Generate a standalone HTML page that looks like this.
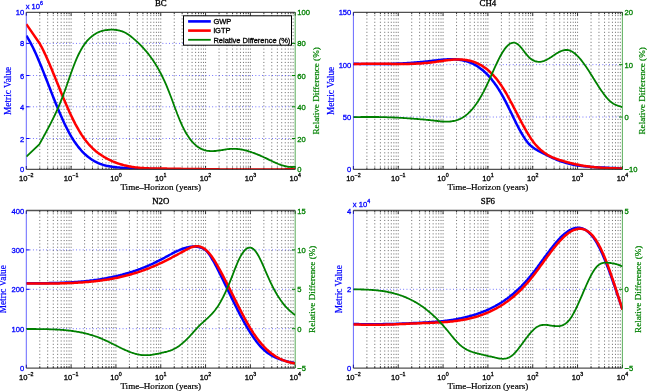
<!DOCTYPE html><html><head><meta charset="utf-8"><style>html,body{margin:0;padding:0;background:#fff;overflow:hidden}svg{display:block;will-change:transform}text{paint-order:stroke}</style></head><body>
<svg width="648" height="391" viewBox="0 0 648 391">
<rect width="648" height="391" fill="#fff"/>
<path d="M39.79,12.3V169.4M47.68,12.3V169.4M53.28,12.3V169.4M57.63,12.3V169.4M61.17,12.3V169.4M64.17,12.3V169.4M66.77,12.3V169.4M69.07,12.3V169.4M71.12,12.3V169.4M84.61,12.3V169.4M92.5,12.3V169.4M98.1,12.3V169.4M102.44,12.3V169.4M105.99,12.3V169.4M108.99,12.3V169.4M111.59,12.3V169.4M113.88,12.3V169.4M115.93,12.3V169.4M129.42,12.3V169.4M137.32,12.3V169.4M142.92,12.3V169.4M147.26,12.3V169.4M150.81,12.3V169.4M153.81,12.3V169.4M156.41,12.3V169.4M158.7,12.3V169.4M160.75,12.3V169.4M174.24,12.3V169.4M182.13,12.3V169.4M187.73,12.3V169.4M192.08,12.3V169.4M195.62,12.3V169.4M198.62,12.3V169.4M201.22,12.3V169.4M203.52,12.3V169.4M205.57,12.3V169.4M219.06,12.3V169.4M226.95,12.3V169.4M232.55,12.3V169.4M236.89,12.3V169.4M240.44,12.3V169.4M243.44,12.3V169.4M246.04,12.3V169.4M248.33,12.3V169.4M250.38,12.3V169.4M263.87,12.3V169.4M271.77,12.3V169.4M277.37,12.3V169.4M281.71,12.3V169.4M285.26,12.3V169.4M288.26,12.3V169.4M290.86,12.3V169.4M293.15,12.3V169.4" stroke="#000" stroke-opacity="0.55" stroke-width="1" stroke-dasharray="1.1 2.247" stroke-dashoffset="0.6" fill="none"/>
<path d="M26.3,138.5H295.2M26.3,106.8H295.2M26.3,75.5H295.2M26.3,43.4H295.2" stroke="#0000ff" stroke-opacity="0.6" stroke-width="1" stroke-dasharray="0.9 2.42" fill="none"/>
<path d="M26.3,169.4v-3.4M26.3,12.3v3.4M71.12,169.4v-3.4M71.12,12.3v3.4M115.93,169.4v-3.4M115.93,12.3v3.4M160.75,169.4v-3.4M160.75,12.3v3.4M205.57,169.4v-3.4M205.57,12.3v3.4M250.38,169.4v-3.4M250.38,12.3v3.4M295.2,169.4v-3.4M295.2,12.3v3.4M39.79,169.4v-1.9M39.79,12.3v1.9M47.68,169.4v-1.9M47.68,12.3v1.9M53.28,169.4v-1.9M53.28,12.3v1.9M57.63,169.4v-1.9M57.63,12.3v1.9M61.17,169.4v-1.9M61.17,12.3v1.9M64.17,169.4v-1.9M64.17,12.3v1.9M66.77,169.4v-1.9M66.77,12.3v1.9M69.07,169.4v-1.9M69.07,12.3v1.9M84.61,169.4v-1.9M84.61,12.3v1.9M92.5,169.4v-1.9M92.5,12.3v1.9M98.1,169.4v-1.9M98.1,12.3v1.9M102.44,169.4v-1.9M102.44,12.3v1.9M105.99,169.4v-1.9M105.99,12.3v1.9M108.99,169.4v-1.9M108.99,12.3v1.9M111.59,169.4v-1.9M111.59,12.3v1.9M113.88,169.4v-1.9M113.88,12.3v1.9M129.42,169.4v-1.9M129.42,12.3v1.9M137.32,169.4v-1.9M137.32,12.3v1.9M142.92,169.4v-1.9M142.92,12.3v1.9M147.26,169.4v-1.9M147.26,12.3v1.9M150.81,169.4v-1.9M150.81,12.3v1.9M153.81,169.4v-1.9M153.81,12.3v1.9M156.41,169.4v-1.9M156.41,12.3v1.9M158.7,169.4v-1.9M158.7,12.3v1.9M174.24,169.4v-1.9M174.24,12.3v1.9M182.13,169.4v-1.9M182.13,12.3v1.9M187.73,169.4v-1.9M187.73,12.3v1.9M192.08,169.4v-1.9M192.08,12.3v1.9M195.62,169.4v-1.9M195.62,12.3v1.9M198.62,169.4v-1.9M198.62,12.3v1.9M201.22,169.4v-1.9M201.22,12.3v1.9M203.52,169.4v-1.9M203.52,12.3v1.9M219.06,169.4v-1.9M219.06,12.3v1.9M226.95,169.4v-1.9M226.95,12.3v1.9M232.55,169.4v-1.9M232.55,12.3v1.9M236.89,169.4v-1.9M236.89,12.3v1.9M240.44,169.4v-1.9M240.44,12.3v1.9M243.44,169.4v-1.9M243.44,12.3v1.9M246.04,169.4v-1.9M246.04,12.3v1.9M248.33,169.4v-1.9M248.33,12.3v1.9M263.87,169.4v-1.9M263.87,12.3v1.9M271.77,169.4v-1.9M271.77,12.3v1.9M277.37,169.4v-1.9M277.37,12.3v1.9M281.71,169.4v-1.9M281.71,12.3v1.9M285.26,169.4v-1.9M285.26,12.3v1.9M288.26,169.4v-1.9M288.26,12.3v1.9M290.86,169.4v-1.9M290.86,12.3v1.9M293.15,169.4v-1.9M293.15,12.3v1.9" stroke="#000" stroke-width="0.8" fill="none"/>
<path d="M26.3,12.3V169.4" stroke="#0000ff" stroke-opacity="0.6" stroke-width="1" fill="none"/>
<path d="M26.3,138.5h3.2M26.3,106.8h3.2M26.3,75.5h3.2M26.3,43.4h3.2" stroke="#0000ff" stroke-width="1" fill="none"/>
<clipPath id="cBC"><rect x="26.3" y="12.3" width="268.9" height="157.1"/></clipPath>
<g clip-path="url(#cBC)">
<path d="M26.3,35.6 27.3,37.2 28.3,38.8 29.3,40.6 30.3,42.4 31.3,44.3 32.3,46.3 33.3,48.3 34.3,50.4 35.3,52.6 36.3,54.8 37.3,57.1 38.3,59.4 39.3,61.8 40.3,64.2 41.3,66.6 42.3,69.1 43.3,71.6 44.3,74.1 45.3,76.7 46.3,79.2 47.3,81.8 48.3,84.4 49.3,86.9 50.3,89.5 51.3,92.1 52.3,94.6 53.3,97.2 54.3,99.7 55.3,102.2 56.3,104.7 57.3,107.1 58.3,109.5 59.3,111.9 60.3,114.3 61.3,116.6 62.3,118.8 63.3,121.0 64.3,123.2 65.3,125.3 66.3,127.3 67.3,129.3 68.3,131.2 69.3,133.1 70.3,134.9 71.3,136.6 72.3,138.2 73.3,139.8 74.3,141.4 75.3,142.8 76.3,144.2 77.3,145.6 78.3,146.9 79.3,148.1 80.3,149.3 81.3,150.5 82.3,151.6 83.3,152.6 84.3,153.6 85.3,154.5 86.3,155.4 87.3,156.3 88.3,157.1 89.3,157.8 90.3,158.6 91.3,159.3 92.3,159.9 93.3,160.5 94.3,161.1 95.3,161.6 96.3,162.1 97.3,162.6 98.3,163.1 99.3,163.5 100.3,163.9 101.3,164.2 102.3,164.6 103.3,164.9 104.3,165.2 105.3,165.4 106.3,165.7 107.3,165.9 108.3,166.1 109.3,166.3 110.3,166.5 111.3,166.6 112.3,166.8 113.3,166.9 114.3,167.0 115.3,167.2 116.3,167.3 117.3,167.4 118.3,167.5 119.3,167.6 120.3,167.7 121.3,167.8 122.3,167.8 123.3,167.9 124.3,168.0 125.3,168.1 126.3,168.1 127.3,168.2 128.3,168.3 129.3,168.3 130.3,168.4 131.3,168.5 132.3,168.5 133.3,168.6 134.3,168.6 135.3,168.7 136.3,168.7 137.3,168.7 138.3,168.8 139.3,168.8 140.3,168.9 141.3,168.9 142.3,168.9 143.3,168.9 144.3,169.0 145.3,169.0 146.3,169.0 147.3,169.0 148.3,169.1 149.3,169.1 150.3,169.1 151.3,169.1 152.3,169.1 153.3,169.1 154.3,169.1 155.3,169.1 156.3,169.2 157.3,169.2 158.3,169.2 159.3,169.2 160.3,169.2 161.3,169.2 162.3,169.2 163.3,169.2 164.3,169.2 165.3,169.2 166.3,169.2 167.3,169.2 168.3,169.2 169.3,169.2 170.3,169.2 171.3,169.2 172.3,169.2 173.3,169.2 174.3,169.2 175.3,169.2 176.3,169.2 177.3,169.2 178.3,169.2 179.3,169.2 180.3,169.2 181.3,169.2 182.3,169.2 183.3,169.3 184.3,169.3 185.3,169.3 186.3,169.3 187.3,169.3 188.3,169.3 189.3,169.3 190.3,169.3 191.3,169.4 192.3,169.4 193.3,169.4 194.3,169.4 195.3,169.4 196.3,169.5 197.3,169.5 198.3,169.5 199.3,169.5 200.0,169.6" stroke="#0000ff" stroke-width="2.5" fill="none" stroke-linejoin="round" stroke-linecap="butt"/>
<path d="M26.3,24.1 L39.5,43.2 40.5,45.0 41.5,46.8 42.5,48.8 43.5,50.8 44.5,52.9 45.5,55.0 46.5,57.2 47.5,59.5 48.5,61.7 49.5,64.1 50.5,66.4 51.5,68.8 52.5,71.2 53.5,73.7 54.5,76.1 55.5,78.6 56.5,81.1 57.5,83.5 58.5,86.0 59.5,88.5 60.5,91.0 61.5,93.4 62.5,95.8 63.5,98.3 64.5,100.6 65.5,103.0 66.5,105.3 67.5,107.6 68.5,109.8 69.5,112.1 70.5,114.2 71.5,116.3 72.5,118.4 73.5,120.4 74.5,122.4 75.5,124.3 76.5,126.1 77.5,127.9 78.5,129.7 79.5,131.4 80.5,133.0 81.5,134.6 82.5,136.1 83.5,137.5 84.5,138.9 85.5,140.3 86.5,141.6 87.5,142.8 88.5,144.0 89.5,145.1 90.5,146.2 91.5,147.2 92.5,148.2 93.5,149.1 94.5,150.0 95.5,150.9 96.5,151.7 97.5,152.5 98.5,153.2 99.5,153.9 100.5,154.6 101.5,155.3 102.5,155.9 103.5,156.6 104.5,157.2 105.5,157.8 106.5,158.3 107.5,158.9 108.5,159.4 109.5,159.9 110.5,160.4 111.5,160.8 112.5,161.3 113.5,161.7 114.5,162.1 115.5,162.5 116.5,162.9 117.5,163.3 118.5,163.6 119.5,163.9 120.5,164.2 121.5,164.5 122.5,164.8 123.5,165.1 124.5,165.4 125.5,165.6 126.5,165.8 127.5,166.0 128.5,166.2 129.5,166.4 130.5,166.6 131.5,166.8 132.5,166.9 133.5,167.1 134.5,167.2 135.5,167.4 136.5,167.5 137.5,167.6 138.5,167.7 139.5,167.8 140.5,167.9 141.5,168.0 142.5,168.0 143.5,168.1 144.5,168.2 145.5,168.2 146.5,168.3 147.5,168.3 148.5,168.3 149.5,168.4 150.5,168.4 151.5,168.4 152.5,168.4 153.5,168.5 154.5,168.5 155.5,168.5 156.5,168.5 157.5,168.5 158.5,168.5 159.5,168.6 160.5,168.6 161.5,168.6 162.5,168.6 163.5,168.6 164.5,168.6 165.5,168.6 166.5,168.6 167.5,168.7 168.5,168.7 169.5,168.7 170.5,168.7 171.5,168.7 172.5,168.7 173.5,168.7 174.5,168.8 175.5,168.8 176.5,168.8 177.5,168.8 178.5,168.8 179.5,168.8 180.5,168.8 181.5,168.9 182.5,168.9 183.5,168.9 184.5,168.9 185.5,168.9 186.5,168.9 187.5,168.9 188.5,169.0 189.5,169.0 190.5,169.0 191.5,169.0 192.5,169.0 193.5,169.0 194.5,169.0 195.5,169.1 196.5,169.1 197.5,169.1 198.5,169.1 199.5,169.1 200.5,169.1 201.5,169.1 202.5,169.2 203.5,169.2 204.5,169.2 205.5,169.2 206.5,169.2 207.5,169.2 208.5,169.2 209.5,169.2 210.5,169.3 211.5,169.3 212.5,169.3 213.5,169.3 214.5,169.3 215.5,169.3 216.5,169.3 217.5,169.3 218.5,169.3 219.5,169.4 220.5,169.4 221.5,169.4 222.5,169.4 223.5,169.4 224.5,169.4 225.5,169.4 226.5,169.4 227.5,169.4 228.5,169.4 229.5,169.5 230.5,169.5 231.5,169.5 232.5,169.5 233.5,169.5 234.5,169.5 235.5,169.5 236.5,169.5 237.5,169.5 238.5,169.5 239.5,169.5 240.5,169.5 241.5,169.5 242.5,169.5 243.5,169.5 244.5,169.6 245.5,169.6 246.5,169.6 247.5,169.6 248.5,169.6 249.5,169.6 250.5,169.6 251.5,169.6 252.5,169.6 253.5,169.6 254.5,169.6 255.5,169.6 256.5,169.6 257.5,169.6 258.5,169.6 259.5,169.6 260.5,169.6 261.5,169.6 262.5,169.6 263.5,169.6 264.5,169.6 265.5,169.5 266.5,169.5 267.5,169.5 268.5,169.5 269.5,169.5 270.5,169.5 271.5,169.5 272.5,169.5 273.5,169.5 274.5,169.5 275.5,169.5 276.5,169.5 277.5,169.5 278.5,169.4 279.5,169.4 280.5,169.4 281.5,169.4 282.5,169.4 283.5,169.4 284.5,169.4 285.5,169.4 286.5,169.3 287.5,169.3 288.5,169.3 289.5,169.3 290.5,169.3 291.5,169.2 292.5,169.2 293.5,169.2 294.5,169.2 295.2,169.2" stroke="#ff0000" stroke-width="2.5" fill="none" stroke-linejoin="round" stroke-linecap="butt"/>
</g>
<path d="M26.3,12.3H295.2M26.3,169.4H295.2" stroke="#333" stroke-opacity="0.85" stroke-width="1.3" fill="none"/>
<path d="M295.2,12.3V169.4" stroke="#008000" stroke-opacity="0.6" stroke-width="1.1" fill="none"/>
<path d="M295.2,138.5h-3.2M295.2,106.8h-3.2M295.2,75.5h-3.2M295.2,43.4h-3.2" stroke="#008000" stroke-width="1" fill="none"/>
<path clip-path="url(#cBC)" d="M26.4,156.7 L39.3,144.4 40.3,142.6 41.3,140.8 42.3,138.9 43.3,137.1 44.3,135.3 45.3,133.5 46.3,131.6 47.3,129.8 48.3,127.9 49.3,126.0 50.3,124.1 51.3,122.2 52.3,120.2 53.3,118.2 54.3,116.1 55.3,114.0 56.3,111.9 57.3,109.7 58.3,107.4 59.3,105.1 60.3,102.7 61.3,100.2 62.3,97.6 63.3,95.0 64.3,92.3 65.3,89.5 66.3,86.7 67.3,83.8 68.3,81.0 69.3,78.1 70.3,75.3 71.3,72.4 72.3,69.7 73.3,67.0 74.3,64.4 75.3,61.8 76.3,59.4 77.3,57.1 78.3,55.0 79.3,53.0 80.3,51.1 81.3,49.3 82.3,47.6 83.3,46.0 84.3,44.6 85.3,43.2 86.3,41.9 87.3,40.7 88.3,39.6 89.3,38.6 90.3,37.7 91.3,36.8 92.3,36.0 93.3,35.2 94.3,34.5 95.3,33.9 96.3,33.3 97.3,32.8 98.3,32.3 99.3,31.9 100.3,31.5 101.3,31.2 102.3,30.9 103.3,30.7 104.3,30.4 105.3,30.2 106.3,30.1 107.3,30.0 108.3,29.9 109.3,29.8 110.3,29.7 111.3,29.7 112.3,29.7 113.3,29.7 114.3,29.8 115.3,29.9 116.3,30.0 117.3,30.1 118.3,30.3 119.3,30.5 120.3,30.8 121.3,31.1 122.3,31.4 123.3,31.8 124.3,32.3 125.3,32.8 126.3,33.3 127.3,33.9 128.3,34.6 129.3,35.3 130.3,36.0 131.3,36.8 132.3,37.6 133.3,38.4 134.3,39.3 135.3,40.2 136.3,41.1 137.3,42.0 138.3,42.9 139.3,43.9 140.3,44.9 141.3,45.9 142.3,47.0 143.3,48.0 144.3,49.1 145.3,50.3 146.3,51.4 147.3,52.6 148.3,53.9 149.3,55.2 150.3,56.5 151.3,57.9 152.3,59.3 153.3,60.7 154.3,62.3 155.3,63.8 156.3,65.5 157.3,67.1 158.3,68.9 159.3,70.7 160.3,72.6 161.3,74.5 162.3,76.5 163.3,78.6 164.3,80.7 165.3,82.9 166.3,85.2 167.3,87.6 168.3,90.1 169.3,92.6 170.3,95.2 171.3,97.8 172.3,100.5 173.3,103.2 174.3,106.0 175.3,108.7 176.3,111.3 177.3,114.0 178.3,116.5 179.3,119.0 180.3,121.4 181.3,123.7 182.3,125.9 183.3,127.9 184.3,129.9 185.3,131.7 186.3,133.5 187.3,135.1 188.3,136.6 189.3,138.1 190.3,139.4 191.3,140.7 192.3,141.8 193.3,142.9 194.3,143.9 195.3,144.8 196.3,145.7 197.3,146.5 198.3,147.2 199.3,147.8 200.3,148.4 201.3,148.9 202.3,149.3 203.3,149.7 204.3,150.1 205.3,150.3 206.3,150.6 207.3,150.8 208.3,150.9 209.3,151.0 210.3,151.1 211.3,151.1 212.3,151.1 213.3,151.1 214.3,151.0 215.3,151.0 216.3,150.9 217.3,150.7 218.3,150.6 219.3,150.5 220.3,150.3 221.3,150.1 222.3,150.0 223.3,149.8 224.3,149.6 225.3,149.5 226.3,149.3 227.3,149.2 228.3,149.1 229.3,149.0 230.3,148.9 231.3,148.9 232.3,148.8 233.3,148.8 234.3,148.8 235.3,148.9 236.3,148.9 237.3,149.0 238.3,149.1 239.3,149.2 240.3,149.4 241.3,149.5 242.3,149.7 243.3,149.9 244.3,150.1 245.3,150.4 246.3,150.6 247.3,150.9 248.3,151.2 249.3,151.5 250.3,151.8 251.3,152.1 252.3,152.5 253.3,152.8 254.3,153.2 255.3,153.6 256.3,154.0 257.3,154.4 258.3,154.8 259.3,155.2 260.3,155.6 261.3,156.1 262.3,156.5 263.3,157.0 264.3,157.5 265.3,157.9 266.3,158.4 267.3,158.9 268.3,159.4 269.3,159.9 270.3,160.3 271.3,160.8 272.3,161.3 273.3,161.8 274.3,162.2 275.3,162.7 276.3,163.1 277.3,163.5 278.3,164.0 279.3,164.3 280.3,164.7 281.3,165.1 282.3,165.4 283.3,165.7 284.3,166.0 285.3,166.2 286.3,166.4 287.3,166.6 288.3,166.8 289.3,166.9 290.3,166.9 291.3,167.0 292.3,167.0 293.3,166.9 294.3,166.8 295.2,166.7" stroke="#008000" stroke-width="1.8" fill="none" stroke-linejoin="round"/>
<text x="24.2" y="172.4" font-family='"Liberation Sans", sans-serif' font-size="7.6" fill="#0000ff" stroke="#0000ff" stroke-width="0.3" text-anchor="end">0</text>
<text x="24.2" y="141.5" font-family='"Liberation Sans", sans-serif' font-size="7.6" fill="#0000ff" stroke="#0000ff" stroke-width="0.3" text-anchor="end">2</text>
<text x="24.2" y="109.8" font-family='"Liberation Sans", sans-serif' font-size="7.6" fill="#0000ff" stroke="#0000ff" stroke-width="0.3" text-anchor="end">4</text>
<text x="24.2" y="78.5" font-family='"Liberation Sans", sans-serif' font-size="7.6" fill="#0000ff" stroke="#0000ff" stroke-width="0.3" text-anchor="end">6</text>
<text x="24.2" y="46.4" font-family='"Liberation Sans", sans-serif' font-size="7.6" fill="#0000ff" stroke="#0000ff" stroke-width="0.3" text-anchor="end">8</text>
<text x="24.2" y="15.3" font-family='"Liberation Sans", sans-serif' font-size="7.6" fill="#0000ff" stroke="#0000ff" stroke-width="0.3" text-anchor="end">10</text>
<text x="297.3" y="172.4" font-family='"Liberation Sans", sans-serif' font-size="7.6" fill="#008000" stroke="#008000" stroke-width="0.3">0</text>
<text x="297.3" y="141.5" font-family='"Liberation Sans", sans-serif' font-size="7.6" fill="#008000" stroke="#008000" stroke-width="0.3">20</text>
<text x="297.3" y="109.8" font-family='"Liberation Sans", sans-serif' font-size="7.6" fill="#008000" stroke="#008000" stroke-width="0.3">40</text>
<text x="297.3" y="78.5" font-family='"Liberation Sans", sans-serif' font-size="7.6" fill="#008000" stroke="#008000" stroke-width="0.3">60</text>
<text x="297.3" y="46.4" font-family='"Liberation Sans", sans-serif' font-size="7.6" fill="#008000" stroke="#008000" stroke-width="0.3">80</text>
<text x="297.3" y="15.3" font-family='"Liberation Sans", sans-serif' font-size="7.6" fill="#008000" stroke="#008000" stroke-width="0.3">100</text>
<text x="26.3" y="181.2" font-family='"Liberation Sans", sans-serif' font-size="7.6" fill="#000" stroke="#000" stroke-width="0.3" text-anchor="middle">10<tspan font-size="5.3" dy="-4.2">−2</tspan></text>
<text x="71.12" y="181.2" font-family='"Liberation Sans", sans-serif' font-size="7.6" fill="#000" stroke="#000" stroke-width="0.3" text-anchor="middle">10<tspan font-size="5.3" dy="-4.2">−1</tspan></text>
<text x="115.93" y="181.2" font-family='"Liberation Sans", sans-serif' font-size="7.6" fill="#000" stroke="#000" stroke-width="0.3" text-anchor="middle">10<tspan font-size="5.3" dy="-4.2">0</tspan></text>
<text x="160.75" y="181.2" font-family='"Liberation Sans", sans-serif' font-size="7.6" fill="#000" stroke="#000" stroke-width="0.3" text-anchor="middle">10<tspan font-size="5.3" dy="-4.2">1</tspan></text>
<text x="205.57" y="181.2" font-family='"Liberation Sans", sans-serif' font-size="7.6" fill="#000" stroke="#000" stroke-width="0.3" text-anchor="middle">10<tspan font-size="5.3" dy="-4.2">2</tspan></text>
<text x="250.38" y="181.2" font-family='"Liberation Sans", sans-serif' font-size="7.6" fill="#000" stroke="#000" stroke-width="0.3" text-anchor="middle">10<tspan font-size="5.3" dy="-4.2">3</tspan></text>
<text x="295.2" y="181.2" font-family='"Liberation Sans", sans-serif' font-size="7.6" fill="#000" stroke="#000" stroke-width="0.3" text-anchor="middle">10<tspan font-size="5.3" dy="-4.2">4</tspan></text>
<text x="25.7" y="8.5" font-family='"Liberation Sans", sans-serif' font-size="7.6" fill="#0000ff" stroke="#0000ff" stroke-width="0.3">x 10<tspan font-size="5.3" dy="-3.6">6</tspan></text>
<text x="160.75" y="6.1" font-family='"Liberation Serif", serif' font-size="8.8" font-weight="normal" fill="#000" stroke="#000" stroke-width="0.32" text-anchor="middle">BC</text>
<text x="160.75" y="190.3" font-family='"Liberation Serif", serif' font-size="9.1" font-weight="normal" fill="#000" stroke="#000" stroke-width="0.2" text-anchor="middle">Time–Horizon (years)</text>
<text transform="translate(11.4,90.85) rotate(-90)" font-family='"Liberation Serif", serif' font-size="9.3" font-weight="normal" fill="#0000ff" stroke="#0000ff" stroke-width="0.2" text-anchor="middle">Metric Value</text>
<text transform="translate(319.3,90.85) rotate(-90)" font-family='"Liberation Serif", serif' font-size="9.1" font-weight="normal" fill="#008000" stroke="#008000" stroke-width="0.2" text-anchor="middle">Relative Difference (%)</text>
<path d="M366.9,12.3V169.4M374.79,12.3V169.4M380.39,12.3V169.4M384.74,12.3V169.4M388.29,12.3V169.4M391.29,12.3V169.4M393.89,12.3V169.4M396.18,12.3V169.4M398.23,12.3V169.4M411.73,12.3V169.4M419.62,12.3V169.4M425.23,12.3V169.4M429.57,12.3V169.4M433.12,12.3V169.4M436.12,12.3V169.4M438.72,12.3V169.4M441.02,12.3V169.4M443.07,12.3V169.4M456.56,12.3V169.4M464.46,12.3V169.4M470.06,12.3V169.4M474.4,12.3V169.4M477.95,12.3V169.4M480.96,12.3V169.4M483.56,12.3V169.4M485.85,12.3V169.4M487.9,12.3V169.4M501.4,12.3V169.4M509.29,12.3V169.4M514.89,12.3V169.4M519.24,12.3V169.4M522.79,12.3V169.4M525.79,12.3V169.4M528.39,12.3V169.4M530.68,12.3V169.4M532.73,12.3V169.4M546.23,12.3V169.4M554.12,12.3V169.4M559.73,12.3V169.4M564.07,12.3V169.4M567.62,12.3V169.4M570.62,12.3V169.4M573.22,12.3V169.4M575.52,12.3V169.4M577.57,12.3V169.4M591.06,12.3V169.4M598.96,12.3V169.4M604.56,12.3V169.4M608.9,12.3V169.4M612.45,12.3V169.4M615.46,12.3V169.4M618.06,12.3V169.4M620.35,12.3V169.4" stroke="#000" stroke-opacity="0.55" stroke-width="1" stroke-dasharray="1.1 2.247" stroke-dashoffset="0.6" fill="none"/>
<path d="M353.4,117.03H622.4M353.4,64.67H622.4" stroke="#0000ff" stroke-opacity="0.6" stroke-width="1" stroke-dasharray="0.9 2.42" fill="none"/>
<path d="M353.4,169.4v-3.4M353.4,12.3v3.4M398.23,169.4v-3.4M398.23,12.3v3.4M443.07,169.4v-3.4M443.07,12.3v3.4M487.9,169.4v-3.4M487.9,12.3v3.4M532.73,169.4v-3.4M532.73,12.3v3.4M577.57,169.4v-3.4M577.57,12.3v3.4M622.4,169.4v-3.4M622.4,12.3v3.4M366.9,169.4v-1.9M366.9,12.3v1.9M374.79,169.4v-1.9M374.79,12.3v1.9M380.39,169.4v-1.9M380.39,12.3v1.9M384.74,169.4v-1.9M384.74,12.3v1.9M388.29,169.4v-1.9M388.29,12.3v1.9M391.29,169.4v-1.9M391.29,12.3v1.9M393.89,169.4v-1.9M393.89,12.3v1.9M396.18,169.4v-1.9M396.18,12.3v1.9M411.73,169.4v-1.9M411.73,12.3v1.9M419.62,169.4v-1.9M419.62,12.3v1.9M425.23,169.4v-1.9M425.23,12.3v1.9M429.57,169.4v-1.9M429.57,12.3v1.9M433.12,169.4v-1.9M433.12,12.3v1.9M436.12,169.4v-1.9M436.12,12.3v1.9M438.72,169.4v-1.9M438.72,12.3v1.9M441.02,169.4v-1.9M441.02,12.3v1.9M456.56,169.4v-1.9M456.56,12.3v1.9M464.46,169.4v-1.9M464.46,12.3v1.9M470.06,169.4v-1.9M470.06,12.3v1.9M474.4,169.4v-1.9M474.4,12.3v1.9M477.95,169.4v-1.9M477.95,12.3v1.9M480.96,169.4v-1.9M480.96,12.3v1.9M483.56,169.4v-1.9M483.56,12.3v1.9M485.85,169.4v-1.9M485.85,12.3v1.9M501.4,169.4v-1.9M501.4,12.3v1.9M509.29,169.4v-1.9M509.29,12.3v1.9M514.89,169.4v-1.9M514.89,12.3v1.9M519.24,169.4v-1.9M519.24,12.3v1.9M522.79,169.4v-1.9M522.79,12.3v1.9M525.79,169.4v-1.9M525.79,12.3v1.9M528.39,169.4v-1.9M528.39,12.3v1.9M530.68,169.4v-1.9M530.68,12.3v1.9M546.23,169.4v-1.9M546.23,12.3v1.9M554.12,169.4v-1.9M554.12,12.3v1.9M559.73,169.4v-1.9M559.73,12.3v1.9M564.07,169.4v-1.9M564.07,12.3v1.9M567.62,169.4v-1.9M567.62,12.3v1.9M570.62,169.4v-1.9M570.62,12.3v1.9M573.22,169.4v-1.9M573.22,12.3v1.9M575.52,169.4v-1.9M575.52,12.3v1.9M591.06,169.4v-1.9M591.06,12.3v1.9M598.96,169.4v-1.9M598.96,12.3v1.9M604.56,169.4v-1.9M604.56,12.3v1.9M608.9,169.4v-1.9M608.9,12.3v1.9M612.45,169.4v-1.9M612.45,12.3v1.9M615.46,169.4v-1.9M615.46,12.3v1.9M618.06,169.4v-1.9M618.06,12.3v1.9M620.35,169.4v-1.9M620.35,12.3v1.9" stroke="#000" stroke-width="0.8" fill="none"/>
<path d="M353.4,12.3V169.4" stroke="#0000ff" stroke-opacity="0.6" stroke-width="1" fill="none"/>
<path d="M353.4,117.03h3.2M353.4,64.67h3.2" stroke="#0000ff" stroke-width="1" fill="none"/>
<clipPath id="cCH4"><rect x="353.4" y="12.3" width="269" height="157.1"/></clipPath>
<g clip-path="url(#cCH4)">
<path d="M353.4,63.6 354.4,63.7 355.4,63.7 356.4,63.8 357.4,63.8 358.4,63.8 359.4,63.9 360.4,63.9 361.4,63.9 362.4,64.0 363.4,64.0 364.4,64.0 365.4,64.0 366.4,64.1 367.4,64.1 368.4,64.1 369.4,64.1 370.4,64.1 371.4,64.1 372.4,64.1 373.4,64.1 374.4,64.1 375.4,64.1 376.4,64.1 377.4,64.1 378.4,64.1 379.4,64.1 380.4,64.1 381.4,64.1 382.4,64.1 383.4,64.1 384.4,64.1 385.4,64.0 386.4,64.0 387.4,64.0 388.4,64.0 389.4,63.9 390.4,63.9 391.4,63.9 392.4,63.8 393.4,63.8 394.4,63.8 395.4,63.7 396.4,63.7 397.4,63.6 398.4,63.6 399.4,63.5 400.4,63.5 401.4,63.4 402.4,63.4 403.4,63.3 404.4,63.3 405.4,63.2 406.4,63.2 407.4,63.1 408.4,63.0 409.4,63.0 410.4,62.9 411.4,62.8 412.4,62.7 413.4,62.7 414.4,62.6 415.4,62.5 416.4,62.4 417.4,62.3 418.4,62.2 419.4,62.2 420.4,62.1 421.4,62.0 422.4,61.9 423.4,61.8 424.4,61.7 425.4,61.6 426.4,61.5 427.4,61.4 428.4,61.3 429.4,61.2 430.4,61.1 431.4,60.9 432.4,60.8 433.4,60.7 434.4,60.6 435.4,60.5 436.4,60.4 437.4,60.2 438.4,60.1 439.4,60.0 440.4,59.9 441.4,59.8 442.4,59.7 443.4,59.6 444.4,59.5 445.4,59.5 446.4,59.4 447.4,59.3 448.4,59.3 449.4,59.3 450.4,59.2 451.4,59.2 452.4,59.2 453.4,59.3 454.4,59.3 455.4,59.3 456.4,59.4 457.4,59.5 458.4,59.6 459.4,59.7 460.4,59.9 461.4,60.0 462.4,60.2 463.4,60.5 464.4,60.7 465.4,60.9 466.4,61.2 467.4,61.6 468.4,61.9 469.4,62.3 470.4,62.7 471.4,63.1 472.4,63.5 473.4,64.0 474.4,64.6 475.4,65.1 476.4,65.7 477.4,66.3 478.4,67.0 479.4,67.7 480.4,68.4 481.4,69.2 482.4,70.0 483.4,70.8 484.4,71.7 485.4,72.6 486.4,73.6 487.4,74.6 488.4,75.7 489.4,76.8 490.4,77.9 491.4,79.1 492.4,80.4 493.4,81.7 494.4,83.0 495.4,84.4 496.4,85.8 497.4,87.3 498.4,88.9 499.4,90.5 500.4,92.1 501.4,93.8 502.4,95.6 503.4,97.4 504.4,99.3 505.4,101.2 506.4,103.1 507.4,105.1 508.4,107.2 509.4,109.2 510.4,111.3 511.4,113.3 512.4,115.4 513.4,117.5 514.4,119.5 515.4,121.5 516.4,123.6 517.4,125.5 518.4,127.5 519.4,129.4 520.4,131.2 521.4,133.0 522.4,134.7 523.4,136.4 524.4,137.9 525.4,139.4 526.4,140.8 527.4,142.1 528.4,143.3 529.4,144.4 530.4,145.4 531.4,146.3 532.4,147.1 533.4,147.8 534.4,148.5 535.4,149.1 536.4,149.7 537.4,150.3 538.4,150.8 539.4,151.3 540.4,151.8 541.4,152.3 542.4,152.8 543.4,153.3 544.4,153.8 545.4,154.3 546.4,154.8 547.4,155.3 548.4,155.8 549.4,156.3 550.4,156.8 551.4,157.3 552.4,157.8 553.4,158.3 554.4,158.7 555.4,159.1 556.4,159.6 557.4,160.0 558.4,160.4 559.4,160.7 560.4,161.1 561.4,161.5 562.4,161.8 563.4,162.1 564.4,162.4 565.4,162.7 566.4,163.0 567.4,163.3 568.4,163.5 569.4,163.8 570.4,164.0 571.4,164.2 572.4,164.5 573.4,164.7 574.4,164.9 575.4,165.0 576.4,165.2 577.4,165.4 578.4,165.6 579.4,165.7 580.4,165.8 581.4,166.0 582.4,166.1 583.4,166.2 584.4,166.3 585.4,166.4 586.4,166.5 587.4,166.6 588.4,166.7 589.4,166.8 590.4,166.9 591.4,167.0 592.4,167.0 593.4,167.1 594.4,167.2 595.4,167.2 596.4,167.3 597.4,167.3 598.4,167.4 599.4,167.4 600.4,167.5 601.4,167.5 602.4,167.6 603.4,167.6 604.4,167.6 605.4,167.7 606.4,167.7 607.4,167.8 608.4,167.8 609.4,167.9 610.4,167.9 611.4,167.9 612.4,168.0 613.4,168.0 614.4,168.1 615.4,168.1 616.4,168.2 617.4,168.3 618.4,168.3 619.4,168.4 620.4,168.5 621.4,168.5 622.4,168.6" stroke="#0000ff" stroke-width="2.5" fill="none" stroke-linejoin="round" stroke-linecap="butt"/>
<path d="M353.4,64.2 354.4,64.1 355.4,64.1 356.4,64.0 357.4,64.0 358.4,63.9 359.4,63.9 360.4,63.9 361.4,63.8 362.4,63.8 363.4,63.8 364.4,63.7 365.4,63.7 366.4,63.7 367.4,63.7 368.4,63.7 369.4,63.7 370.4,63.7 371.4,63.7 372.4,63.7 373.4,63.7 374.4,63.7 375.4,63.7 376.4,63.7 377.4,63.7 378.4,63.7 379.4,63.7 380.4,63.7 381.4,63.7 382.4,63.7 383.4,63.7 384.4,63.8 385.4,63.8 386.4,63.8 387.4,63.8 388.4,63.8 389.4,63.8 390.4,63.8 391.4,63.9 392.4,63.9 393.4,63.9 394.4,63.9 395.4,63.9 396.4,63.9 397.4,63.9 398.4,63.9 399.4,63.9 400.4,63.9 401.4,63.9 402.4,63.9 403.4,63.9 404.4,63.9 405.4,63.9 406.4,63.9 407.4,63.9 408.4,63.9 409.4,63.9 410.4,63.8 411.4,63.8 412.4,63.8 413.4,63.8 414.4,63.7 415.4,63.7 416.4,63.6 417.4,63.6 418.4,63.5 419.4,63.5 420.4,63.4 421.4,63.4 422.4,63.3 423.4,63.2 424.4,63.1 425.4,63.1 426.4,63.0 427.4,62.9 428.4,62.8 429.4,62.7 430.4,62.6 431.4,62.4 432.4,62.3 433.4,62.2 434.4,62.1 435.4,61.9 436.4,61.8 437.4,61.6 438.4,61.5 439.4,61.3 440.4,61.2 441.4,61.0 442.4,60.9 443.4,60.8 444.4,60.6 445.4,60.5 446.4,60.3 447.4,60.2 448.4,60.1 449.4,60.0 450.4,59.9 451.4,59.8 452.4,59.7 453.4,59.6 454.4,59.6 455.4,59.5 456.4,59.5 457.4,59.5 458.4,59.5 459.4,59.5 460.4,59.5 461.4,59.5 462.4,59.6 463.4,59.7 464.4,59.8 465.4,59.9 466.4,60.0 467.4,60.2 468.4,60.4 469.4,60.6 470.4,60.9 471.4,61.1 472.4,61.4 473.4,61.7 474.4,62.1 475.4,62.5 476.4,62.9 477.4,63.3 478.4,63.8 479.4,64.3 480.4,64.8 481.4,65.4 482.4,66.0 483.4,66.7 484.4,67.4 485.4,68.1 486.4,68.8 487.4,69.6 488.4,70.5 489.4,71.4 490.4,72.3 491.4,73.3 492.4,74.3 493.4,75.4 494.4,76.5 495.4,77.6 496.4,78.8 497.4,80.1 498.4,81.4 499.4,82.8 500.4,84.2 501.4,85.6 502.4,87.1 503.4,88.7 504.4,90.3 505.4,92.0 506.4,93.7 507.4,95.5 508.4,97.3 509.4,99.1 510.4,101.0 511.4,102.8 512.4,104.7 513.4,106.7 514.4,108.6 515.4,110.5 516.4,112.5 517.4,114.4 518.4,116.4 519.4,118.3 520.4,120.2 521.4,122.1 522.4,124.0 523.4,125.8 524.4,127.6 525.4,129.4 526.4,131.2 527.4,132.9 528.4,134.5 529.4,136.1 530.4,137.7 531.4,139.2 532.4,140.6 533.4,142.0 534.4,143.3 535.4,144.5 536.4,145.6 537.4,146.7 538.4,147.8 539.4,148.7 540.4,149.7 541.4,150.5 542.4,151.3 543.4,152.1 544.4,152.8 545.4,153.5 546.4,154.1 547.4,154.8 548.4,155.3 549.4,155.8 550.4,156.3 551.4,156.8 552.4,157.3 553.4,157.7 554.4,158.1 555.4,158.5 556.4,158.8 557.4,159.2 558.4,159.5 559.4,159.9 560.4,160.2 561.4,160.5 562.4,160.8 563.4,161.1 564.4,161.4 565.4,161.7 566.4,162.0 567.4,162.3 568.4,162.5 569.4,162.8 570.4,163.1 571.4,163.3 572.4,163.5 573.4,163.8 574.4,164.0 575.4,164.2 576.4,164.4 577.4,164.6 578.4,164.8 579.4,165.0 580.4,165.2 581.4,165.4 582.4,165.6 583.4,165.7 584.4,165.9 585.4,166.0 586.4,166.2 587.4,166.3 588.4,166.5 589.4,166.6 590.4,166.7 591.4,166.9 592.4,167.0 593.4,167.1 594.4,167.2 595.4,167.3 596.4,167.4 597.4,167.5 598.4,167.6 599.4,167.6 600.4,167.7 601.4,167.8 602.4,167.9 603.4,167.9 604.4,168.0 605.4,168.0 606.4,168.1 607.4,168.1 608.4,168.2 609.4,168.2 610.4,168.2 611.4,168.3 612.4,168.3 613.4,168.3 614.4,168.3 615.4,168.3 616.4,168.3 617.4,168.4 618.4,168.4 619.4,168.4 620.4,168.4 621.4,168.4 622.4,168.3" stroke="#ff0000" stroke-width="2.5" fill="none" stroke-linejoin="round" stroke-linecap="butt"/>
</g>
<path d="M353.4,12.3H622.4M353.4,169.4H622.4" stroke="#333" stroke-opacity="0.85" stroke-width="1.3" fill="none"/>
<path d="M622.4,12.3V169.4" stroke="#008000" stroke-opacity="0.6" stroke-width="1.1" fill="none"/>
<path d="M622.4,117.03h-3.2M622.4,64.67h-3.2" stroke="#008000" stroke-width="1" fill="none"/>
<path clip-path="url(#cCH4)" d="M353.4,117.2 354.4,117.2 355.4,117.2 356.4,117.2 357.4,117.1 358.4,117.1 359.4,117.1 360.4,117.1 361.4,117.0 362.4,117.0 363.4,117.0 364.4,117.0 365.4,117.0 366.4,117.0 367.4,117.0 368.4,117.0 369.4,117.0 370.4,117.0 371.4,117.0 372.4,117.0 373.4,117.0 374.4,117.0 375.4,117.0 376.4,117.0 377.4,117.0 378.4,117.0 379.4,117.1 380.4,117.1 381.4,117.1 382.4,117.1 383.4,117.1 384.4,117.2 385.4,117.2 386.4,117.2 387.4,117.3 388.4,117.3 389.4,117.3 390.4,117.4 391.4,117.4 392.4,117.4 393.4,117.5 394.4,117.5 395.4,117.6 396.4,117.6 397.4,117.7 398.4,117.7 399.4,117.8 400.4,117.8 401.4,117.9 402.4,117.9 403.4,118.0 404.4,118.1 405.4,118.1 406.4,118.2 407.4,118.3 408.4,118.3 409.4,118.4 410.4,118.5 411.4,118.5 412.4,118.6 413.4,118.7 414.4,118.8 415.4,118.8 416.4,118.9 417.4,119.0 418.4,119.1 419.4,119.2 420.4,119.3 421.4,119.4 422.4,119.4 423.4,119.5 424.4,119.6 425.4,119.7 426.4,119.8 427.4,119.9 428.4,120.0 429.4,120.1 430.4,120.2 431.4,120.3 432.4,120.4 433.4,120.6 434.4,120.7 435.4,120.8 436.4,120.9 437.4,121.0 438.4,121.1 439.4,121.2 440.4,121.3 441.4,121.4 442.4,121.5 443.4,121.5 444.4,121.6 445.4,121.6 446.4,121.6 447.4,121.6 448.4,121.6 449.4,121.6 450.4,121.5 451.4,121.4 452.4,121.2 453.4,121.0 454.4,120.8 455.4,120.6 456.4,120.3 457.4,120.0 458.4,119.6 459.4,119.2 460.4,118.8 461.4,118.2 462.4,117.7 463.4,117.1 464.4,116.4 465.4,115.7 466.4,114.9 467.4,114.1 468.4,113.2 469.4,112.2 470.4,111.2 471.4,110.1 472.4,109.0 473.4,107.7 474.4,106.5 475.4,105.1 476.4,103.7 477.4,102.2 478.4,100.7 479.4,99.1 480.4,97.4 481.4,95.7 482.4,93.9 483.4,92.1 484.4,90.1 485.4,88.1 486.4,86.1 487.4,83.9 488.4,81.8 489.4,79.6 490.4,77.4 491.4,75.1 492.4,72.9 493.4,70.6 494.4,68.4 495.4,66.2 496.4,64.1 497.4,62.0 498.4,59.9 499.4,57.9 500.4,56.0 501.4,54.2 502.4,52.5 503.4,50.9 504.4,49.4 505.4,48.1 506.4,46.9 507.4,45.8 508.4,44.9 509.4,44.1 510.4,43.5 511.4,43.1 512.4,42.8 513.4,42.7 514.4,42.7 515.4,43.0 516.4,43.4 517.4,44.0 518.4,44.8 519.4,45.7 520.4,46.8 521.4,47.9 522.4,49.2 523.4,50.5 524.4,51.8 525.4,53.1 526.4,54.3 527.4,55.5 528.4,56.6 529.4,57.6 530.4,58.5 531.4,59.2 532.4,59.9 533.4,60.4 534.4,60.9 535.4,61.3 536.4,61.5 537.4,61.7 538.4,61.8 539.4,61.8 540.4,61.8 541.4,61.6 542.4,61.4 543.4,61.1 544.4,60.8 545.4,60.3 546.4,59.9 547.4,59.3 548.4,58.8 549.4,58.2 550.4,57.5 551.4,56.9 552.4,56.2 553.4,55.6 554.4,54.9 555.4,54.2 556.4,53.6 557.4,53.0 558.4,52.4 559.4,51.9 560.4,51.4 561.4,51.0 562.4,50.6 563.4,50.3 564.4,50.1 565.4,50.0 566.4,49.9 567.4,50.0 568.4,50.2 569.4,50.4 570.4,50.8 571.4,51.3 572.4,51.8 573.4,52.5 574.4,53.2 575.4,54.0 576.4,54.9 577.4,55.9 578.4,56.9 579.4,58.0 580.4,59.2 581.4,60.4 582.4,61.7 583.4,63.0 584.4,64.4 585.4,65.8 586.4,67.2 587.4,68.7 588.4,70.2 589.4,71.8 590.4,73.4 591.4,74.9 592.4,76.5 593.4,78.2 594.4,79.8 595.4,81.4 596.4,83.0 597.4,84.6 598.4,86.2 599.4,87.7 600.4,89.2 601.4,90.7 602.4,92.1 603.4,93.5 604.4,94.9 605.4,96.1 606.4,97.4 607.4,98.5 608.4,99.6 609.4,100.6 610.4,101.5 611.4,102.3 612.4,103.0 613.4,103.7 614.4,104.2 615.4,104.7 616.4,105.2 617.4,105.5 618.4,105.9 619.4,106.2 620.4,106.5 621.4,106.8 622.4,107.1" stroke="#008000" stroke-width="1.8" fill="none" stroke-linejoin="round"/>
<text x="351.3" y="172.4" font-family='"Liberation Sans", sans-serif' font-size="7.6" fill="#0000ff" stroke="#0000ff" stroke-width="0.3" text-anchor="end">0</text>
<text x="351.3" y="120.03" font-family='"Liberation Sans", sans-serif' font-size="7.6" fill="#0000ff" stroke="#0000ff" stroke-width="0.3" text-anchor="end">50</text>
<text x="351.3" y="67.67" font-family='"Liberation Sans", sans-serif' font-size="7.6" fill="#0000ff" stroke="#0000ff" stroke-width="0.3" text-anchor="end">100</text>
<text x="351.3" y="15.3" font-family='"Liberation Sans", sans-serif' font-size="7.6" fill="#0000ff" stroke="#0000ff" stroke-width="0.3" text-anchor="end">150</text>
<text x="624.5" y="172.4" font-family='"Liberation Sans", sans-serif' font-size="7.6" fill="#008000" stroke="#008000" stroke-width="0.3">−10</text>
<text x="624.5" y="120.03" font-family='"Liberation Sans", sans-serif' font-size="7.6" fill="#008000" stroke="#008000" stroke-width="0.3">0</text>
<text x="624.5" y="67.67" font-family='"Liberation Sans", sans-serif' font-size="7.6" fill="#008000" stroke="#008000" stroke-width="0.3">10</text>
<text x="624.5" y="15.3" font-family='"Liberation Sans", sans-serif' font-size="7.6" fill="#008000" stroke="#008000" stroke-width="0.3">20</text>
<text x="353.4" y="181.2" font-family='"Liberation Sans", sans-serif' font-size="7.6" fill="#000" stroke="#000" stroke-width="0.3" text-anchor="middle">10<tspan font-size="5.3" dy="-4.2">−2</tspan></text>
<text x="398.23" y="181.2" font-family='"Liberation Sans", sans-serif' font-size="7.6" fill="#000" stroke="#000" stroke-width="0.3" text-anchor="middle">10<tspan font-size="5.3" dy="-4.2">−1</tspan></text>
<text x="443.07" y="181.2" font-family='"Liberation Sans", sans-serif' font-size="7.6" fill="#000" stroke="#000" stroke-width="0.3" text-anchor="middle">10<tspan font-size="5.3" dy="-4.2">0</tspan></text>
<text x="487.9" y="181.2" font-family='"Liberation Sans", sans-serif' font-size="7.6" fill="#000" stroke="#000" stroke-width="0.3" text-anchor="middle">10<tspan font-size="5.3" dy="-4.2">1</tspan></text>
<text x="532.73" y="181.2" font-family='"Liberation Sans", sans-serif' font-size="7.6" fill="#000" stroke="#000" stroke-width="0.3" text-anchor="middle">10<tspan font-size="5.3" dy="-4.2">2</tspan></text>
<text x="577.57" y="181.2" font-family='"Liberation Sans", sans-serif' font-size="7.6" fill="#000" stroke="#000" stroke-width="0.3" text-anchor="middle">10<tspan font-size="5.3" dy="-4.2">3</tspan></text>
<text x="622.4" y="181.2" font-family='"Liberation Sans", sans-serif' font-size="7.6" fill="#000" stroke="#000" stroke-width="0.3" text-anchor="middle">10<tspan font-size="5.3" dy="-4.2">4</tspan></text>
<text x="487.9" y="6.1" font-family='"Liberation Serif", serif' font-size="8.8" font-weight="normal" fill="#000" stroke="#000" stroke-width="0.32" text-anchor="middle">CH4</text>
<text x="487.9" y="190.3" font-family='"Liberation Serif", serif' font-size="9.1" font-weight="normal" fill="#000" stroke="#000" stroke-width="0.2" text-anchor="middle">Time–Horizon (years)</text>
<text transform="translate(334.3,90.85) rotate(-90)" font-family='"Liberation Serif", serif' font-size="9.3" font-weight="normal" fill="#0000ff" stroke="#0000ff" stroke-width="0.2" text-anchor="middle">Metric Value</text>
<text transform="translate(645.1,90.85) rotate(-90)" font-family='"Liberation Serif", serif' font-size="9.1" font-weight="normal" fill="#008000" stroke="#008000" stroke-width="0.2" text-anchor="middle">Relative Difference (%)</text>
<path d="M39.79,210.5V368.1M47.68,210.5V368.1M53.28,210.5V368.1M57.63,210.5V368.1M61.17,210.5V368.1M64.17,210.5V368.1M66.77,210.5V368.1M69.07,210.5V368.1M71.12,210.5V368.1M84.61,210.5V368.1M92.5,210.5V368.1M98.1,210.5V368.1M102.44,210.5V368.1M105.99,210.5V368.1M108.99,210.5V368.1M111.59,210.5V368.1M113.88,210.5V368.1M115.93,210.5V368.1M129.42,210.5V368.1M137.32,210.5V368.1M142.92,210.5V368.1M147.26,210.5V368.1M150.81,210.5V368.1M153.81,210.5V368.1M156.41,210.5V368.1M158.7,210.5V368.1M160.75,210.5V368.1M174.24,210.5V368.1M182.13,210.5V368.1M187.73,210.5V368.1M192.08,210.5V368.1M195.62,210.5V368.1M198.62,210.5V368.1M201.22,210.5V368.1M203.52,210.5V368.1M205.57,210.5V368.1M219.06,210.5V368.1M226.95,210.5V368.1M232.55,210.5V368.1M236.89,210.5V368.1M240.44,210.5V368.1M243.44,210.5V368.1M246.04,210.5V368.1M248.33,210.5V368.1M250.38,210.5V368.1M263.87,210.5V368.1M271.77,210.5V368.1M277.37,210.5V368.1M281.71,210.5V368.1M285.26,210.5V368.1M288.26,210.5V368.1M290.86,210.5V368.1M293.15,210.5V368.1" stroke="#000" stroke-opacity="0.55" stroke-width="1" stroke-dasharray="1.1 2.247" stroke-dashoffset="0.6" fill="none"/>
<path d="M26.3,328.7H295.2M26.3,289.3H295.2M26.3,249.9H295.2" stroke="#0000ff" stroke-opacity="0.6" stroke-width="1" stroke-dasharray="0.9 2.42" fill="none"/>
<path d="M26.3,368.1v-3.4M26.3,210.5v3.4M71.12,368.1v-3.4M71.12,210.5v3.4M115.93,368.1v-3.4M115.93,210.5v3.4M160.75,368.1v-3.4M160.75,210.5v3.4M205.57,368.1v-3.4M205.57,210.5v3.4M250.38,368.1v-3.4M250.38,210.5v3.4M295.2,368.1v-3.4M295.2,210.5v3.4M39.79,368.1v-1.9M39.79,210.5v1.9M47.68,368.1v-1.9M47.68,210.5v1.9M53.28,368.1v-1.9M53.28,210.5v1.9M57.63,368.1v-1.9M57.63,210.5v1.9M61.17,368.1v-1.9M61.17,210.5v1.9M64.17,368.1v-1.9M64.17,210.5v1.9M66.77,368.1v-1.9M66.77,210.5v1.9M69.07,368.1v-1.9M69.07,210.5v1.9M84.61,368.1v-1.9M84.61,210.5v1.9M92.5,368.1v-1.9M92.5,210.5v1.9M98.1,368.1v-1.9M98.1,210.5v1.9M102.44,368.1v-1.9M102.44,210.5v1.9M105.99,368.1v-1.9M105.99,210.5v1.9M108.99,368.1v-1.9M108.99,210.5v1.9M111.59,368.1v-1.9M111.59,210.5v1.9M113.88,368.1v-1.9M113.88,210.5v1.9M129.42,368.1v-1.9M129.42,210.5v1.9M137.32,368.1v-1.9M137.32,210.5v1.9M142.92,368.1v-1.9M142.92,210.5v1.9M147.26,368.1v-1.9M147.26,210.5v1.9M150.81,368.1v-1.9M150.81,210.5v1.9M153.81,368.1v-1.9M153.81,210.5v1.9M156.41,368.1v-1.9M156.41,210.5v1.9M158.7,368.1v-1.9M158.7,210.5v1.9M174.24,368.1v-1.9M174.24,210.5v1.9M182.13,368.1v-1.9M182.13,210.5v1.9M187.73,368.1v-1.9M187.73,210.5v1.9M192.08,368.1v-1.9M192.08,210.5v1.9M195.62,368.1v-1.9M195.62,210.5v1.9M198.62,368.1v-1.9M198.62,210.5v1.9M201.22,368.1v-1.9M201.22,210.5v1.9M203.52,368.1v-1.9M203.52,210.5v1.9M219.06,368.1v-1.9M219.06,210.5v1.9M226.95,368.1v-1.9M226.95,210.5v1.9M232.55,368.1v-1.9M232.55,210.5v1.9M236.89,368.1v-1.9M236.89,210.5v1.9M240.44,368.1v-1.9M240.44,210.5v1.9M243.44,368.1v-1.9M243.44,210.5v1.9M246.04,368.1v-1.9M246.04,210.5v1.9M248.33,368.1v-1.9M248.33,210.5v1.9M263.87,368.1v-1.9M263.87,210.5v1.9M271.77,368.1v-1.9M271.77,210.5v1.9M277.37,368.1v-1.9M277.37,210.5v1.9M281.71,368.1v-1.9M281.71,210.5v1.9M285.26,368.1v-1.9M285.26,210.5v1.9M288.26,368.1v-1.9M288.26,210.5v1.9M290.86,368.1v-1.9M290.86,210.5v1.9M293.15,368.1v-1.9M293.15,210.5v1.9" stroke="#000" stroke-width="0.8" fill="none"/>
<path d="M26.3,210.5V368.1" stroke="#0000ff" stroke-opacity="0.6" stroke-width="1" fill="none"/>
<path d="M26.3,328.7h3.2M26.3,289.3h3.2M26.3,249.9h3.2" stroke="#0000ff" stroke-width="1" fill="none"/>
<clipPath id="cN2O"><rect x="26.3" y="210.5" width="268.9" height="157.6"/></clipPath>
<g clip-path="url(#cN2O)">
<path d="M26.4,283.3 27.4,283.3 28.4,283.3 29.4,283.3 30.4,283.3 31.4,283.3 32.4,283.3 33.4,283.3 34.4,283.3 35.4,283.3 36.4,283.3 37.4,283.3 38.4,283.3 39.4,283.3 40.4,283.3 41.4,283.2 42.4,283.2 43.4,283.2 44.4,283.2 45.4,283.2 46.4,283.2 47.4,283.2 48.4,283.2 49.4,283.1 50.4,283.1 51.4,283.1 52.4,283.1 53.4,283.1 54.4,283.0 55.4,283.0 56.4,283.0 57.4,282.9 58.4,282.9 59.4,282.9 60.4,282.8 61.4,282.8 62.4,282.8 63.4,282.7 64.4,282.7 65.4,282.6 66.4,282.6 67.4,282.5 68.4,282.5 69.4,282.4 70.4,282.4 71.4,282.3 72.4,282.3 73.4,282.2 74.4,282.1 75.4,282.1 76.4,282.0 77.4,281.9 78.4,281.8 79.4,281.8 80.4,281.7 81.4,281.6 82.4,281.5 83.4,281.4 84.4,281.3 85.4,281.2 86.4,281.1 87.4,281.0 88.4,280.9 89.4,280.8 90.4,280.6 91.4,280.5 92.4,280.4 93.4,280.3 94.4,280.1 95.4,280.0 96.4,279.9 97.4,279.7 98.4,279.6 99.4,279.4 100.4,279.3 101.4,279.1 102.4,278.9 103.4,278.8 104.4,278.6 105.4,278.4 106.4,278.2 107.4,278.0 108.4,277.8 109.4,277.6 110.4,277.4 111.4,277.2 112.4,277.0 113.4,276.8 114.4,276.6 115.4,276.4 116.4,276.1 117.4,275.9 118.4,275.6 119.4,275.4 120.4,275.1 121.4,274.9 122.4,274.6 123.4,274.3 124.4,274.1 125.4,273.8 126.4,273.5 127.4,273.2 128.4,272.9 129.4,272.6 130.4,272.3 131.4,272.0 132.4,271.7 133.4,271.3 134.4,271.0 135.4,270.7 136.4,270.3 137.4,270.0 138.4,269.6 139.4,269.2 140.4,268.9 141.4,268.5 142.4,268.1 143.4,267.7 144.4,267.3 145.4,266.9 146.4,266.5 147.4,266.0 148.4,265.6 149.4,265.2 150.4,264.7 151.4,264.3 152.4,263.8 153.4,263.4 154.4,262.9 155.4,262.4 156.4,261.9 157.4,261.4 158.4,260.9 159.4,260.4 160.4,259.9 161.4,259.4 162.4,258.9 163.4,258.3 164.4,257.8 165.4,257.2 166.4,256.7 167.4,256.1 168.4,255.6 169.4,255.0 170.4,254.5 171.4,254.0 172.4,253.4 173.4,252.9 174.4,252.4 175.4,251.9 176.4,251.4 177.4,251.0 178.4,250.5 179.4,250.1 180.4,249.6 181.4,249.3 182.4,248.9 183.4,248.5 184.4,248.2 185.4,247.9 186.4,247.6 187.4,247.4 188.4,247.2 189.4,247.0 190.4,246.8 191.4,246.7 192.4,246.6 193.4,246.6 194.4,246.6 195.4,246.6 196.4,246.7 197.4,246.8 198.4,247.0 199.4,247.2 200.4,247.5 201.4,247.8 202.4,248.2 203.4,248.7 204.4,249.3 205.4,250.0 206.4,250.9 207.4,252.0 208.4,253.3 209.4,254.6 210.4,256.2 211.4,257.8 212.4,259.5 213.4,261.2 214.4,263.0 215.4,264.8 216.4,266.7 217.4,268.7 218.4,270.6 219.4,272.6 220.4,274.6 221.4,276.7 222.4,278.7 223.4,280.8 224.4,282.9 225.4,285.0 226.4,287.0 227.4,289.1 228.4,291.2 229.4,293.3 230.4,295.3 231.4,297.4 232.4,299.4 233.4,301.5 234.4,303.5 235.4,305.5 236.4,307.5 237.4,309.5 238.4,311.4 239.4,313.4 240.4,315.3 241.4,317.2 242.4,319.0 243.4,320.8 244.4,322.6 245.4,324.4 246.4,326.2 247.4,327.9 248.4,329.5 249.4,331.2 250.4,332.8 251.4,334.3 252.4,335.8 253.4,337.3 254.4,338.7 255.4,340.1 256.4,341.5 257.4,342.7 258.4,344.0 259.4,345.2 260.4,346.3 261.4,347.4 262.4,348.4 263.4,349.3 264.4,350.2 265.4,351.1 266.4,351.9 267.4,352.7 268.4,353.4 269.4,354.1 270.4,354.8 271.4,355.4 272.4,355.9 273.4,356.5 274.4,357.0 275.4,357.4 276.4,357.9 277.4,358.3 278.4,358.7 279.4,359.1 280.4,359.4 281.4,359.7 282.4,360.1 283.4,360.3 284.4,360.6 285.4,360.9 286.4,361.2 287.4,361.4 288.4,361.7 289.4,361.9 290.4,362.1 291.4,362.4 292.4,362.6 293.4,362.8 294.4,363.1 295.2,363.3" stroke="#0000ff" stroke-width="2.5" fill="none" stroke-linejoin="round" stroke-linecap="butt"/>
<path d="M26.4,283.6 27.4,283.6 28.4,283.6 29.4,283.6 30.4,283.6 31.4,283.6 32.4,283.6 33.4,283.6 34.4,283.6 35.4,283.6 36.4,283.6 37.4,283.6 38.4,283.6 39.4,283.6 40.4,283.6 41.4,283.6 42.4,283.5 43.4,283.5 44.4,283.5 45.4,283.5 46.4,283.5 47.4,283.5 48.4,283.5 49.4,283.5 50.4,283.5 51.4,283.5 52.4,283.5 53.4,283.5 54.4,283.4 55.4,283.4 56.4,283.4 57.4,283.4 58.4,283.4 59.4,283.4 60.4,283.3 61.4,283.3 62.4,283.3 63.4,283.3 64.4,283.2 65.4,283.2 66.4,283.2 67.4,283.1 68.4,283.1 69.4,283.1 70.4,283.0 71.4,283.0 72.4,282.9 73.4,282.9 74.4,282.8 75.4,282.8 76.4,282.7 77.4,282.7 78.4,282.6 79.4,282.6 80.4,282.5 81.4,282.4 82.4,282.4 83.4,282.3 84.4,282.2 85.4,282.1 86.4,282.1 87.4,282.0 88.4,281.9 89.4,281.8 90.4,281.7 91.4,281.6 92.4,281.5 93.4,281.4 94.4,281.3 95.4,281.2 96.4,281.1 97.4,280.9 98.4,280.8 99.4,280.7 100.4,280.6 101.4,280.4 102.4,280.3 103.4,280.1 104.4,280.0 105.4,279.8 106.4,279.7 107.4,279.5 108.4,279.4 109.4,279.2 110.4,279.0 111.4,278.8 112.4,278.7 113.4,278.5 114.4,278.3 115.4,278.1 116.4,277.9 117.4,277.7 118.4,277.5 119.4,277.2 120.4,277.0 121.4,276.8 122.4,276.6 123.4,276.3 124.4,276.1 125.4,275.8 126.4,275.6 127.4,275.3 128.4,275.1 129.4,274.8 130.4,274.5 131.4,274.2 132.4,273.9 133.4,273.6 134.4,273.3 135.4,273.0 136.4,272.7 137.4,272.4 138.4,272.1 139.4,271.7 140.4,271.4 141.4,271.1 142.4,270.7 143.4,270.3 144.4,270.0 145.4,269.6 146.4,269.2 147.4,268.8 148.4,268.5 149.4,268.1 150.4,267.6 151.4,267.2 152.4,266.8 153.4,266.4 154.4,266.0 155.4,265.5 156.4,265.1 157.4,264.6 158.4,264.2 159.4,263.7 160.4,263.2 161.4,262.8 162.4,262.3 163.4,261.8 164.4,261.3 165.4,260.8 166.4,260.3 167.4,259.8 168.4,259.3 169.4,258.8 170.4,258.3 171.4,257.8 172.4,257.2 173.4,256.7 174.4,256.2 175.4,255.7 176.4,255.1 177.4,254.6 178.4,254.0 179.4,253.5 180.4,253.0 181.4,252.4 182.4,251.9 183.4,251.3 184.4,250.8 185.4,250.2 186.4,249.7 187.4,249.1 188.4,248.6 189.4,248.2 190.4,247.7 191.4,247.3 192.4,247.0 193.4,246.7 194.4,246.5 195.4,246.3 196.4,246.2 197.4,246.2 198.4,246.3 199.4,246.5 200.4,246.8 201.4,247.1 202.4,247.6 203.4,248.1 204.4,248.8 205.4,249.5 206.4,250.4 207.4,251.3 208.4,252.4 209.4,253.5 210.4,254.8 211.4,256.1 212.4,257.5 213.4,259.0 214.4,260.5 215.4,262.1 216.4,263.8 217.4,265.5 218.4,267.3 219.4,269.1 220.4,270.9 221.4,272.8 222.4,274.7 223.4,276.6 224.4,278.5 225.4,280.5 226.4,282.4 227.4,284.4 228.4,286.4 229.4,288.4 230.4,290.4 231.4,292.4 232.4,294.4 233.4,296.4 234.4,298.4 235.4,300.4 236.4,302.4 237.4,304.3 238.4,306.3 239.4,308.3 240.4,310.2 241.4,312.1 242.4,314.0 243.4,315.9 244.4,317.8 245.4,319.6 246.4,321.4 247.4,323.2 248.4,324.9 249.4,326.6 250.4,328.3 251.4,329.9 252.4,331.5 253.4,333.1 254.4,334.6 255.4,336.0 256.4,337.4 257.4,338.8 258.4,340.1 259.4,341.4 260.4,342.6 261.4,343.8 262.4,344.9 263.4,346.0 264.4,347.1 265.4,348.1 266.4,349.1 267.4,350.0 268.4,350.9 269.4,351.8 270.4,352.6 271.4,353.4 272.4,354.1 273.4,354.8 274.4,355.5 275.4,356.2 276.4,356.8 277.4,357.4 278.4,357.9 279.4,358.5 280.4,359.0 281.4,359.4 282.4,359.9 283.4,360.3 284.4,360.7 285.4,361.0 286.4,361.4 287.4,361.7 288.4,362.0 289.4,362.2 290.4,362.5 291.4,362.7 292.4,362.9 293.4,363.1 294.4,363.3 295.2,363.4" stroke="#ff0000" stroke-width="2.5" fill="none" stroke-linejoin="round" stroke-linecap="butt"/>
</g>
<path d="M26.3,210.5H295.2M26.3,368.1H295.2" stroke="#333" stroke-opacity="0.85" stroke-width="1.3" fill="none"/>
<path d="M295.2,210.5V368.1" stroke="#008000" stroke-opacity="0.6" stroke-width="1.1" fill="none"/>
<path d="M295.2,328.7h-3.2M295.2,289.3h-3.2M295.2,249.9h-3.2" stroke="#008000" stroke-width="1" fill="none"/>
<path clip-path="url(#cN2O)" d="M26.4,328.9 27.4,329.0 28.4,329.0 29.4,329.0 30.4,329.0 31.4,329.0 32.4,329.0 33.4,329.0 34.4,329.0 35.4,329.0 36.4,329.1 37.4,329.1 38.4,329.1 39.4,329.1 40.4,329.1 41.4,329.1 42.4,329.1 43.4,329.1 44.4,329.1 45.4,329.2 46.4,329.2 47.4,329.2 48.4,329.2 49.4,329.3 50.4,329.3 51.4,329.3 52.4,329.4 53.4,329.4 54.4,329.4 55.4,329.5 56.4,329.5 57.4,329.6 58.4,329.6 59.4,329.7 60.4,329.8 61.4,329.8 62.4,329.9 63.4,330.0 64.4,330.1 65.4,330.2 66.4,330.3 67.4,330.4 68.4,330.5 69.4,330.6 70.4,330.7 71.4,330.9 72.4,331.0 73.4,331.1 74.4,331.3 75.4,331.4 76.4,331.6 77.4,331.8 78.4,331.9 79.4,332.1 80.4,332.3 81.4,332.5 82.4,332.7 83.4,333.0 84.4,333.2 85.4,333.4 86.4,333.7 87.4,333.9 88.4,334.2 89.4,334.5 90.4,334.8 91.4,335.0 92.4,335.4 93.4,335.7 94.4,336.0 95.4,336.3 96.4,336.7 97.4,337.0 98.4,337.4 99.4,337.8 100.4,338.2 101.4,338.6 102.4,339.0 103.4,339.5 104.4,339.9 105.4,340.4 106.4,340.8 107.4,341.3 108.4,341.8 109.4,342.3 110.4,342.7 111.4,343.2 112.4,343.7 113.4,344.2 114.4,344.8 115.4,345.3 116.4,345.8 117.4,346.3 118.4,346.8 119.4,347.3 120.4,347.7 121.4,348.2 122.4,348.7 123.4,349.2 124.4,349.6 125.4,350.1 126.4,350.5 127.4,350.9 128.4,351.4 129.4,351.8 130.4,352.1 131.4,352.5 132.4,352.8 133.4,353.2 134.4,353.5 135.4,353.8 136.4,354.0 137.4,354.3 138.4,354.5 139.4,354.7 140.4,354.8 141.4,355.0 142.4,355.1 143.4,355.2 144.4,355.2 145.4,355.2 146.4,355.2 147.4,355.2 148.4,355.1 149.4,355.1 150.4,355.0 151.4,354.8 152.4,354.7 153.4,354.5 154.4,354.4 155.4,354.2 156.4,354.0 157.4,353.8 158.4,353.6 159.4,353.4 160.4,353.2 161.4,352.9 162.4,352.7 163.4,352.5 164.4,352.2 165.4,352.0 166.4,351.8 167.4,351.5 168.4,351.2 169.4,350.9 170.4,350.6 171.4,350.2 172.4,349.8 173.4,349.3 174.4,348.8 175.4,348.3 176.4,347.7 177.4,347.1 178.4,346.4 179.4,345.7 180.4,344.9 181.4,344.1 182.4,343.3 183.4,342.4 184.4,341.5 185.4,340.6 186.4,339.6 187.4,338.6 188.4,337.6 189.4,336.6 190.4,335.5 191.4,334.4 192.4,333.3 193.4,332.2 194.4,331.0 195.4,329.9 196.4,328.8 197.4,327.7 198.4,326.7 199.4,325.6 200.4,324.6 201.4,323.7 202.4,322.8 203.4,321.9 204.4,321.0 205.4,320.1 206.4,319.2 207.4,318.3 208.4,317.3 209.4,316.4 210.4,315.4 211.4,314.4 212.4,313.3 213.4,312.2 214.4,311.0 215.4,309.7 216.4,308.3 217.4,306.9 218.4,305.4 219.4,303.8 220.4,302.1 221.4,300.3 222.4,298.4 223.4,296.5 224.4,294.4 225.4,292.3 226.4,290.1 227.4,287.9 228.4,285.6 229.4,283.2 230.4,280.7 231.4,278.2 232.4,275.6 233.4,273.0 234.4,270.4 235.4,267.9 236.4,265.4 237.4,263.0 238.4,260.7 239.4,258.6 240.4,256.6 241.4,254.9 242.4,253.3 243.4,251.9 244.4,250.7 245.4,249.6 246.4,248.8 247.4,248.2 248.4,247.8 249.4,247.6 250.4,247.7 251.4,247.9 252.4,248.4 253.4,249.1 254.4,250.0 255.4,251.1 256.4,252.5 257.4,254.0 258.4,255.7 259.4,257.6 260.4,259.6 261.4,261.7 262.4,263.9 263.4,266.1 264.4,268.4 265.4,270.8 266.4,273.1 267.4,275.4 268.4,277.7 269.4,279.9 270.4,282.1 271.4,284.2 272.4,286.2 273.4,288.1 274.4,290.0 275.4,291.8 276.4,293.5 277.4,295.2 278.4,296.8 279.4,298.3 280.4,299.8 281.4,301.2 282.4,302.6 283.4,303.9 284.4,305.1 285.4,306.3 286.4,307.4 287.4,308.4 288.4,309.4 289.4,310.4 290.4,311.3 291.4,312.1 292.4,312.9 293.4,313.7 294.4,314.4 295.2,314.9" stroke="#008000" stroke-width="1.8" fill="none" stroke-linejoin="round"/>
<text x="24.2" y="371.1" font-family='"Liberation Sans", sans-serif' font-size="7.6" fill="#0000ff" stroke="#0000ff" stroke-width="0.3" text-anchor="end">0</text>
<text x="24.2" y="331.7" font-family='"Liberation Sans", sans-serif' font-size="7.6" fill="#0000ff" stroke="#0000ff" stroke-width="0.3" text-anchor="end">100</text>
<text x="24.2" y="292.3" font-family='"Liberation Sans", sans-serif' font-size="7.6" fill="#0000ff" stroke="#0000ff" stroke-width="0.3" text-anchor="end">200</text>
<text x="24.2" y="252.9" font-family='"Liberation Sans", sans-serif' font-size="7.6" fill="#0000ff" stroke="#0000ff" stroke-width="0.3" text-anchor="end">300</text>
<text x="24.2" y="213.5" font-family='"Liberation Sans", sans-serif' font-size="7.6" fill="#0000ff" stroke="#0000ff" stroke-width="0.3" text-anchor="end">400</text>
<text x="297.3" y="371.1" font-family='"Liberation Sans", sans-serif' font-size="7.6" fill="#008000" stroke="#008000" stroke-width="0.3">−5</text>
<text x="297.3" y="331.7" font-family='"Liberation Sans", sans-serif' font-size="7.6" fill="#008000" stroke="#008000" stroke-width="0.3">0</text>
<text x="297.3" y="292.3" font-family='"Liberation Sans", sans-serif' font-size="7.6" fill="#008000" stroke="#008000" stroke-width="0.3">5</text>
<text x="297.3" y="252.9" font-family='"Liberation Sans", sans-serif' font-size="7.6" fill="#008000" stroke="#008000" stroke-width="0.3">10</text>
<text x="297.3" y="213.5" font-family='"Liberation Sans", sans-serif' font-size="7.6" fill="#008000" stroke="#008000" stroke-width="0.3">15</text>
<text x="26.3" y="379.9" font-family='"Liberation Sans", sans-serif' font-size="7.6" fill="#000" stroke="#000" stroke-width="0.3" text-anchor="middle">10<tspan font-size="5.3" dy="-4.2">−2</tspan></text>
<text x="71.12" y="379.9" font-family='"Liberation Sans", sans-serif' font-size="7.6" fill="#000" stroke="#000" stroke-width="0.3" text-anchor="middle">10<tspan font-size="5.3" dy="-4.2">−1</tspan></text>
<text x="115.93" y="379.9" font-family='"Liberation Sans", sans-serif' font-size="7.6" fill="#000" stroke="#000" stroke-width="0.3" text-anchor="middle">10<tspan font-size="5.3" dy="-4.2">0</tspan></text>
<text x="160.75" y="379.9" font-family='"Liberation Sans", sans-serif' font-size="7.6" fill="#000" stroke="#000" stroke-width="0.3" text-anchor="middle">10<tspan font-size="5.3" dy="-4.2">1</tspan></text>
<text x="205.57" y="379.9" font-family='"Liberation Sans", sans-serif' font-size="7.6" fill="#000" stroke="#000" stroke-width="0.3" text-anchor="middle">10<tspan font-size="5.3" dy="-4.2">2</tspan></text>
<text x="250.38" y="379.9" font-family='"Liberation Sans", sans-serif' font-size="7.6" fill="#000" stroke="#000" stroke-width="0.3" text-anchor="middle">10<tspan font-size="5.3" dy="-4.2">3</tspan></text>
<text x="295.2" y="379.9" font-family='"Liberation Sans", sans-serif' font-size="7.6" fill="#000" stroke="#000" stroke-width="0.3" text-anchor="middle">10<tspan font-size="5.3" dy="-4.2">4</tspan></text>
<text x="160.75" y="204.3" font-family='"Liberation Serif", serif' font-size="8.8" font-weight="normal" fill="#000" stroke="#000" stroke-width="0.32" text-anchor="middle">N2O</text>
<text x="160.75" y="389" font-family='"Liberation Serif", serif' font-size="9.1" font-weight="normal" fill="#000" stroke="#000" stroke-width="0.2" text-anchor="middle">Time–Horizon (years)</text>
<text transform="translate(6,289.3) rotate(-90)" font-family='"Liberation Serif", serif' font-size="9.3" font-weight="normal" fill="#0000ff" stroke="#0000ff" stroke-width="0.2" text-anchor="middle">Metric Value</text>
<text transform="translate(314.5,289.3) rotate(-90)" font-family='"Liberation Serif", serif' font-size="9.1" font-weight="normal" fill="#008000" stroke="#008000" stroke-width="0.2" text-anchor="middle">Relative Difference (%)</text>
<path d="M366.9,210.5V368.1M374.79,210.5V368.1M380.39,210.5V368.1M384.74,210.5V368.1M388.29,210.5V368.1M391.29,210.5V368.1M393.89,210.5V368.1M396.18,210.5V368.1M398.23,210.5V368.1M411.73,210.5V368.1M419.62,210.5V368.1M425.23,210.5V368.1M429.57,210.5V368.1M433.12,210.5V368.1M436.12,210.5V368.1M438.72,210.5V368.1M441.02,210.5V368.1M443.07,210.5V368.1M456.56,210.5V368.1M464.46,210.5V368.1M470.06,210.5V368.1M474.4,210.5V368.1M477.95,210.5V368.1M480.96,210.5V368.1M483.56,210.5V368.1M485.85,210.5V368.1M487.9,210.5V368.1M501.4,210.5V368.1M509.29,210.5V368.1M514.89,210.5V368.1M519.24,210.5V368.1M522.79,210.5V368.1M525.79,210.5V368.1M528.39,210.5V368.1M530.68,210.5V368.1M532.73,210.5V368.1M546.23,210.5V368.1M554.12,210.5V368.1M559.73,210.5V368.1M564.07,210.5V368.1M567.62,210.5V368.1M570.62,210.5V368.1M573.22,210.5V368.1M575.52,210.5V368.1M577.57,210.5V368.1M591.06,210.5V368.1M598.96,210.5V368.1M604.56,210.5V368.1M608.9,210.5V368.1M612.45,210.5V368.1M615.46,210.5V368.1M618.06,210.5V368.1M620.35,210.5V368.1" stroke="#000" stroke-opacity="0.55" stroke-width="1" stroke-dasharray="1.1 2.247" stroke-dashoffset="0.6" fill="none"/>
<path d="M353.4,289.3H622.4" stroke="#0000ff" stroke-opacity="0.6" stroke-width="1" stroke-dasharray="0.9 2.42" fill="none"/>
<path d="M353.4,368.1v-3.4M353.4,210.5v3.4M398.23,368.1v-3.4M398.23,210.5v3.4M443.07,368.1v-3.4M443.07,210.5v3.4M487.9,368.1v-3.4M487.9,210.5v3.4M532.73,368.1v-3.4M532.73,210.5v3.4M577.57,368.1v-3.4M577.57,210.5v3.4M622.4,368.1v-3.4M622.4,210.5v3.4M366.9,368.1v-1.9M366.9,210.5v1.9M374.79,368.1v-1.9M374.79,210.5v1.9M380.39,368.1v-1.9M380.39,210.5v1.9M384.74,368.1v-1.9M384.74,210.5v1.9M388.29,368.1v-1.9M388.29,210.5v1.9M391.29,368.1v-1.9M391.29,210.5v1.9M393.89,368.1v-1.9M393.89,210.5v1.9M396.18,368.1v-1.9M396.18,210.5v1.9M411.73,368.1v-1.9M411.73,210.5v1.9M419.62,368.1v-1.9M419.62,210.5v1.9M425.23,368.1v-1.9M425.23,210.5v1.9M429.57,368.1v-1.9M429.57,210.5v1.9M433.12,368.1v-1.9M433.12,210.5v1.9M436.12,368.1v-1.9M436.12,210.5v1.9M438.72,368.1v-1.9M438.72,210.5v1.9M441.02,368.1v-1.9M441.02,210.5v1.9M456.56,368.1v-1.9M456.56,210.5v1.9M464.46,368.1v-1.9M464.46,210.5v1.9M470.06,368.1v-1.9M470.06,210.5v1.9M474.4,368.1v-1.9M474.4,210.5v1.9M477.95,368.1v-1.9M477.95,210.5v1.9M480.96,368.1v-1.9M480.96,210.5v1.9M483.56,368.1v-1.9M483.56,210.5v1.9M485.85,368.1v-1.9M485.85,210.5v1.9M501.4,368.1v-1.9M501.4,210.5v1.9M509.29,368.1v-1.9M509.29,210.5v1.9M514.89,368.1v-1.9M514.89,210.5v1.9M519.24,368.1v-1.9M519.24,210.5v1.9M522.79,368.1v-1.9M522.79,210.5v1.9M525.79,368.1v-1.9M525.79,210.5v1.9M528.39,368.1v-1.9M528.39,210.5v1.9M530.68,368.1v-1.9M530.68,210.5v1.9M546.23,368.1v-1.9M546.23,210.5v1.9M554.12,368.1v-1.9M554.12,210.5v1.9M559.73,368.1v-1.9M559.73,210.5v1.9M564.07,368.1v-1.9M564.07,210.5v1.9M567.62,368.1v-1.9M567.62,210.5v1.9M570.62,368.1v-1.9M570.62,210.5v1.9M573.22,368.1v-1.9M573.22,210.5v1.9M575.52,368.1v-1.9M575.52,210.5v1.9M591.06,368.1v-1.9M591.06,210.5v1.9M598.96,368.1v-1.9M598.96,210.5v1.9M604.56,368.1v-1.9M604.56,210.5v1.9M608.9,368.1v-1.9M608.9,210.5v1.9M612.45,368.1v-1.9M612.45,210.5v1.9M615.46,368.1v-1.9M615.46,210.5v1.9M618.06,368.1v-1.9M618.06,210.5v1.9M620.35,368.1v-1.9M620.35,210.5v1.9" stroke="#000" stroke-width="0.8" fill="none"/>
<path d="M353.4,210.5V368.1" stroke="#0000ff" stroke-opacity="0.6" stroke-width="1" fill="none"/>
<path d="M353.4,289.3h3.2" stroke="#0000ff" stroke-width="1" fill="none"/>
<clipPath id="cSF6"><rect x="353.4" y="210.5" width="269" height="157.6"/></clipPath>
<g clip-path="url(#cSF6)">
<path d="M353.4,324.0 354.4,324.1 355.4,324.1 356.4,324.1 357.4,324.1 358.4,324.1 359.4,324.2 360.4,324.2 361.4,324.2 362.4,324.2 363.4,324.2 364.4,324.2 365.4,324.2 366.4,324.2 367.4,324.2 368.4,324.2 369.4,324.3 370.4,324.3 371.4,324.3 372.4,324.2 373.4,324.2 374.4,324.2 375.4,324.2 376.4,324.2 377.4,324.2 378.4,324.2 379.4,324.2 380.4,324.2 381.4,324.2 382.4,324.2 383.4,324.1 384.4,324.1 385.4,324.1 386.4,324.1 387.4,324.1 388.4,324.0 389.4,324.0 390.4,324.0 391.4,324.0 392.4,323.9 393.4,323.9 394.4,323.9 395.4,323.9 396.4,323.8 397.4,323.8 398.4,323.8 399.4,323.7 400.4,323.7 401.4,323.7 402.4,323.6 403.4,323.6 404.4,323.5 405.4,323.5 406.4,323.5 407.4,323.4 408.4,323.4 409.4,323.3 410.4,323.3 411.4,323.2 412.4,323.2 413.4,323.1 414.4,323.1 415.4,323.0 416.4,323.0 417.4,322.9 418.4,322.9 419.4,322.8 420.4,322.8 421.4,322.7 422.4,322.7 423.4,322.6 424.4,322.6 425.4,322.5 426.4,322.5 427.4,322.4 428.4,322.3 429.4,322.3 430.4,322.2 431.4,322.1 432.4,322.0 433.4,322.0 434.4,321.9 435.4,321.8 436.4,321.7 437.4,321.6 438.4,321.6 439.4,321.5 440.4,321.4 441.4,321.3 442.4,321.2 443.4,321.1 444.4,320.9 445.4,320.8 446.4,320.7 447.4,320.6 448.4,320.4 449.4,320.3 450.4,320.2 451.4,320.0 452.4,319.9 453.4,319.7 454.4,319.5 455.4,319.4 456.4,319.2 457.4,319.0 458.4,318.8 459.4,318.6 460.4,318.4 461.4,318.2 462.4,318.0 463.4,317.8 464.4,317.6 465.4,317.3 466.4,317.1 467.4,316.8 468.4,316.6 469.4,316.3 470.4,316.0 471.4,315.7 472.4,315.4 473.4,315.1 474.4,314.8 475.4,314.5 476.4,314.2 477.4,313.8 478.4,313.5 479.4,313.1 480.4,312.8 481.4,312.4 482.4,312.0 483.4,311.6 484.4,311.2 485.4,310.8 486.4,310.4 487.4,309.9 488.4,309.5 489.4,309.0 490.4,308.5 491.4,308.0 492.4,307.5 493.4,307.0 494.4,306.5 495.4,306.0 496.4,305.4 497.4,304.9 498.4,304.3 499.4,303.7 500.4,303.1 501.4,302.5 502.4,301.8 503.4,301.2 504.4,300.5 505.4,299.8 506.4,299.1 507.4,298.4 508.4,297.6 509.4,296.9 510.4,296.1 511.4,295.3 512.4,294.5 513.4,293.7 514.4,292.8 515.4,291.9 516.4,291.0 517.4,290.1 518.4,289.2 519.4,288.2 520.4,287.3 521.4,286.3 522.4,285.2 523.4,284.2 524.4,283.1 525.4,282.0 526.4,280.9 527.4,279.8 528.4,278.6 529.4,277.4 530.4,276.2 531.4,275.0 532.4,273.7 533.4,272.5 534.4,271.2 535.4,269.9 536.4,268.5 537.4,267.2 538.4,265.8 539.4,264.5 540.4,263.1 541.4,261.7 542.4,260.3 543.4,259.0 544.4,257.6 545.4,256.2 546.4,254.9 547.4,253.5 548.4,252.2 549.4,250.9 550.4,249.5 551.4,248.2 552.4,247.0 553.4,245.7 554.4,244.5 555.4,243.3 556.4,242.1 557.4,241.0 558.4,239.9 559.4,238.8 560.4,237.7 561.4,236.7 562.4,235.8 563.4,234.9 564.4,234.0 565.4,233.2 566.4,232.4 567.4,231.7 568.4,231.0 569.4,230.4 570.4,229.8 571.4,229.4 572.4,228.9 573.4,228.6 574.4,228.3 575.4,228.0 576.4,227.9 577.4,227.8 578.4,227.8 579.4,227.8 580.4,228.0 581.4,228.2 582.4,228.5 583.4,228.9 584.4,229.3 585.4,229.9 586.4,230.5 587.4,231.2 588.4,232.1 589.4,233.0 590.4,234.0 591.4,235.1 592.4,236.3 593.4,237.6 594.4,239.0 595.4,240.6 596.4,242.2 597.4,243.9 598.4,245.8 599.4,247.7 600.4,249.7 601.4,251.9 602.4,254.1 603.4,256.4 604.4,258.7 605.4,261.2 606.4,263.7 607.4,266.3 608.4,268.9 609.4,271.6 610.4,274.3 611.4,277.1 612.4,280.0 613.4,282.8 614.4,285.7 615.4,288.6 616.4,291.5 617.4,294.5 618.4,297.4 619.4,300.4 620.4,303.4 621.4,306.3 622.4,309.3" stroke="#0000ff" stroke-width="2.5" fill="none" stroke-linejoin="round" stroke-linecap="butt"/>
<path d="M353.4,324.3 354.4,324.4 355.4,324.4 356.4,324.5 357.4,324.5 358.4,324.6 359.4,324.6 360.4,324.6 361.4,324.7 362.4,324.7 363.4,324.7 364.4,324.7 365.4,324.8 366.4,324.8 367.4,324.8 368.4,324.8 369.4,324.8 370.4,324.8 371.4,324.8 372.4,324.8 373.4,324.8 374.4,324.8 375.4,324.8 376.4,324.8 377.4,324.8 378.4,324.8 379.4,324.8 380.4,324.8 381.4,324.7 382.4,324.7 383.4,324.7 384.4,324.7 385.4,324.6 386.4,324.6 387.4,324.6 388.4,324.6 389.4,324.5 390.4,324.5 391.4,324.5 392.4,324.4 393.4,324.4 394.4,324.3 395.4,324.3 396.4,324.3 397.4,324.2 398.4,324.2 399.4,324.1 400.4,324.1 401.4,324.1 402.4,324.0 403.4,324.0 404.4,323.9 405.4,323.9 406.4,323.8 407.4,323.8 408.4,323.7 409.4,323.7 410.4,323.6 411.4,323.6 412.4,323.6 413.4,323.5 414.4,323.5 415.4,323.4 416.4,323.4 417.4,323.3 418.4,323.3 419.4,323.3 420.4,323.2 421.4,323.2 422.4,323.1 423.4,323.1 424.4,323.1 425.4,323.0 426.4,323.0 427.4,323.0 428.4,322.9 429.4,322.9 430.4,322.8 431.4,322.8 432.4,322.8 433.4,322.7 434.4,322.7 435.4,322.6 436.4,322.6 437.4,322.5 438.4,322.5 439.4,322.4 440.4,322.4 441.4,322.3 442.4,322.2 443.4,322.2 444.4,322.1 445.4,322.0 446.4,321.9 447.4,321.9 448.4,321.8 449.4,321.7 450.4,321.6 451.4,321.5 452.4,321.4 453.4,321.3 454.4,321.1 455.4,321.0 456.4,320.9 457.4,320.7 458.4,320.6 459.4,320.4 460.4,320.3 461.4,320.1 462.4,320.0 463.4,319.8 464.4,319.6 465.4,319.4 466.4,319.2 467.4,319.0 468.4,318.8 469.4,318.5 470.4,318.3 471.4,318.0 472.4,317.8 473.4,317.5 474.4,317.3 475.4,317.0 476.4,316.7 477.4,316.4 478.4,316.1 479.4,315.7 480.4,315.4 481.4,315.0 482.4,314.7 483.4,314.3 484.4,313.9 485.4,313.5 486.4,313.1 487.4,312.7 488.4,312.3 489.4,311.9 490.4,311.4 491.4,310.9 492.4,310.4 493.4,309.9 494.4,309.4 495.4,308.9 496.4,308.4 497.4,307.8 498.4,307.2 499.4,306.7 500.4,306.1 501.4,305.4 502.4,304.8 503.4,304.2 504.4,303.5 505.4,302.8 506.4,302.1 507.4,301.4 508.4,300.6 509.4,299.9 510.4,299.1 511.4,298.3 512.4,297.5 513.4,296.7 514.4,295.8 515.4,294.9 516.4,294.0 517.4,293.1 518.4,292.2 519.4,291.2 520.4,290.3 521.4,289.3 522.4,288.2 523.4,287.2 524.4,286.1 525.4,285.0 526.4,283.9 527.4,282.8 528.4,281.6 529.4,280.5 530.4,279.3 531.4,278.0 532.4,276.8 533.4,275.5 534.4,274.2 535.4,272.9 536.4,271.6 537.4,270.2 538.4,268.9 539.4,267.5 540.4,266.1 541.4,264.8 542.4,263.4 543.4,262.0 544.4,260.6 545.4,259.3 546.4,257.9 547.4,256.5 548.4,255.2 549.4,253.9 550.4,252.5 551.4,251.2 552.4,249.9 553.4,248.6 554.4,247.4 555.4,246.2 556.4,244.9 557.4,243.8 558.4,242.6 559.4,241.5 560.4,240.4 561.4,239.4 562.4,238.3 563.4,237.4 564.4,236.4 565.4,235.5 566.4,234.7 567.4,233.9 568.4,233.1 569.4,232.4 570.4,231.8 571.4,231.2 572.4,230.7 573.4,230.2 574.4,229.8 575.4,229.4 576.4,229.2 577.4,228.9 578.4,228.8 579.4,228.7 580.4,228.7 581.4,228.8 582.4,229.0 583.4,229.2 584.4,229.5 585.4,230.0 586.4,230.5 587.4,231.1 588.4,231.7 589.4,232.5 590.4,233.4 591.4,234.4 592.4,235.4 593.4,236.6 594.4,237.9 595.4,239.3 596.4,240.8 597.4,242.4 598.4,244.1 599.4,246.0 600.4,247.9 601.4,250.0 602.4,252.2 603.4,254.4 604.4,256.8 605.4,259.3 606.4,261.8 607.4,264.4 608.4,267.1 609.4,269.9 610.4,272.7 611.4,275.6 612.4,278.5 613.4,281.5 614.4,284.5 615.4,287.5 616.4,290.6 617.4,293.8 618.4,296.9 619.4,300.0 620.4,303.2 621.4,306.4 622.4,309.6" stroke="#ff0000" stroke-width="2.5" fill="none" stroke-linejoin="round" stroke-linecap="butt"/>
</g>
<path d="M353.4,210.5H622.4M353.4,368.1H622.4" stroke="#333" stroke-opacity="0.85" stroke-width="1.3" fill="none"/>
<path d="M622.4,210.5V368.1" stroke="#008000" stroke-opacity="0.6" stroke-width="1.1" fill="none"/>
<path d="M622.4,289.3h-3.2" stroke="#008000" stroke-width="1" fill="none"/>
<path clip-path="url(#cSF6)" d="M353.4,289.3 354.4,289.3 355.4,289.4 356.4,289.4 357.4,289.4 358.4,289.4 359.4,289.4 360.4,289.4 361.4,289.5 362.4,289.5 363.4,289.5 364.4,289.6 365.4,289.6 366.4,289.6 367.4,289.7 368.4,289.7 369.4,289.8 370.4,289.8 371.4,289.9 372.4,290.0 373.4,290.1 374.4,290.1 375.4,290.2 376.4,290.3 377.4,290.4 378.4,290.5 379.4,290.7 380.4,290.8 381.4,290.9 382.4,291.0 383.4,291.2 384.4,291.4 385.4,291.5 386.4,291.7 387.4,291.9 388.4,292.1 389.4,292.3 390.4,292.5 391.4,292.7 392.4,293.0 393.4,293.2 394.4,293.5 395.4,293.8 396.4,294.0 397.4,294.3 398.4,294.7 399.4,295.0 400.4,295.3 401.4,295.7 402.4,296.0 403.4,296.4 404.4,296.8 405.4,297.2 406.4,297.6 407.4,298.1 408.4,298.5 409.4,299.0 410.4,299.5 411.4,300.0 412.4,300.5 413.4,301.0 414.4,301.6 415.4,302.1 416.4,302.7 417.4,303.3 418.4,303.9 419.4,304.6 420.4,305.2 421.4,305.9 422.4,306.6 423.4,307.3 424.4,308.0 425.4,308.8 426.4,309.6 427.4,310.4 428.4,311.2 429.4,312.0 430.4,312.9 431.4,313.7 432.4,314.6 433.4,315.6 434.4,316.5 435.4,317.4 436.4,318.4 437.4,319.4 438.4,320.4 439.4,321.5 440.4,322.5 441.4,323.6 442.4,324.7 443.4,325.8 444.4,327.0 445.4,328.1 446.4,329.3 447.4,330.5 448.4,331.7 449.4,333.0 450.4,334.2 451.4,335.5 452.4,336.7 453.4,337.9 454.4,339.1 455.4,340.2 456.4,341.3 457.4,342.4 458.4,343.4 459.4,344.4 460.4,345.3 461.4,346.1 462.4,346.9 463.4,347.6 464.4,348.3 465.4,348.9 466.4,349.4 467.4,350.0 468.4,350.4 469.4,350.9 470.4,351.3 471.4,351.7 472.4,352.0 473.4,352.4 474.4,352.7 475.4,353.0 476.4,353.2 477.4,353.5 478.4,353.7 479.4,354.0 480.4,354.2 481.4,354.5 482.4,354.7 483.4,354.9 484.4,355.2 485.4,355.4 486.4,355.6 487.4,355.8 488.4,356.1 489.4,356.3 490.4,356.5 491.4,356.7 492.4,357.0 493.4,357.2 494.4,357.4 495.4,357.7 496.4,357.9 497.4,358.1 498.4,358.3 499.4,358.5 500.4,358.6 501.4,358.7 502.4,358.8 503.4,358.8 504.4,358.7 505.4,358.6 506.4,358.4 507.4,358.1 508.4,357.7 509.4,357.3 510.4,356.7 511.4,356.1 512.4,355.3 513.4,354.4 514.4,353.4 515.4,352.4 516.4,351.2 517.4,350.0 518.4,348.7 519.4,347.4 520.4,346.1 521.4,344.8 522.4,343.4 523.4,342.0 524.4,340.7 525.4,339.3 526.4,338.0 527.4,336.7 528.4,335.4 529.4,334.2 530.4,333.0 531.4,331.9 532.4,330.8 533.4,329.8 534.4,328.9 535.4,328.1 536.4,327.3 537.4,326.7 538.4,326.2 539.4,325.7 540.4,325.4 541.4,325.1 542.4,325.0 543.4,324.9 544.4,324.8 545.4,324.9 546.4,324.9 547.4,325.0 548.4,325.1 549.4,325.3 550.4,325.5 551.4,325.6 552.4,325.8 553.4,325.9 554.4,326.0 555.4,326.1 556.4,326.2 557.4,326.2 558.4,326.2 559.4,326.1 560.4,325.9 561.4,325.6 562.4,325.3 563.4,324.9 564.4,324.3 565.4,323.7 566.4,322.9 567.4,322.0 568.4,321.0 569.4,319.8 570.4,318.5 571.4,317.0 572.4,315.4 573.4,313.6 574.4,311.8 575.4,309.8 576.4,307.8 577.4,305.6 578.4,303.4 579.4,301.2 580.4,298.9 581.4,296.6 582.4,294.3 583.4,291.9 584.4,289.6 585.4,287.3 586.4,285.0 587.4,282.8 588.4,280.7 589.4,278.6 590.4,276.6 591.4,274.7 592.4,272.9 593.4,271.2 594.4,269.7 595.4,268.3 596.4,267.1 597.4,266.0 598.4,265.2 599.4,264.4 600.4,263.8 601.4,263.4 602.4,263.1 603.4,262.8 604.4,262.7 605.4,262.6 606.4,262.6 607.4,262.7 608.4,262.8 609.4,262.9 610.4,263.0 611.4,263.2 612.4,263.3 613.4,263.5 614.4,263.7 615.4,264.0 616.4,264.2 617.4,264.5 618.4,264.8 619.4,265.2 620.4,265.6 621.4,266.0 622.4,266.4" stroke="#008000" stroke-width="1.8" fill="none" stroke-linejoin="round"/>
<text x="351.3" y="371.1" font-family='"Liberation Sans", sans-serif' font-size="7.6" fill="#0000ff" stroke="#0000ff" stroke-width="0.3" text-anchor="end">0</text>
<text x="351.3" y="292.3" font-family='"Liberation Sans", sans-serif' font-size="7.6" fill="#0000ff" stroke="#0000ff" stroke-width="0.3" text-anchor="end">2</text>
<text x="351.3" y="213.5" font-family='"Liberation Sans", sans-serif' font-size="7.6" fill="#0000ff" stroke="#0000ff" stroke-width="0.3" text-anchor="end">4</text>
<text x="624.5" y="371.1" font-family='"Liberation Sans", sans-serif' font-size="7.6" fill="#008000" stroke="#008000" stroke-width="0.3">−5</text>
<text x="624.5" y="292.3" font-family='"Liberation Sans", sans-serif' font-size="7.6" fill="#008000" stroke="#008000" stroke-width="0.3">0</text>
<text x="624.5" y="213.5" font-family='"Liberation Sans", sans-serif' font-size="7.6" fill="#008000" stroke="#008000" stroke-width="0.3">5</text>
<text x="353.4" y="379.9" font-family='"Liberation Sans", sans-serif' font-size="7.6" fill="#000" stroke="#000" stroke-width="0.3" text-anchor="middle">10<tspan font-size="5.3" dy="-4.2">−2</tspan></text>
<text x="398.23" y="379.9" font-family='"Liberation Sans", sans-serif' font-size="7.6" fill="#000" stroke="#000" stroke-width="0.3" text-anchor="middle">10<tspan font-size="5.3" dy="-4.2">−1</tspan></text>
<text x="443.07" y="379.9" font-family='"Liberation Sans", sans-serif' font-size="7.6" fill="#000" stroke="#000" stroke-width="0.3" text-anchor="middle">10<tspan font-size="5.3" dy="-4.2">0</tspan></text>
<text x="487.9" y="379.9" font-family='"Liberation Sans", sans-serif' font-size="7.6" fill="#000" stroke="#000" stroke-width="0.3" text-anchor="middle">10<tspan font-size="5.3" dy="-4.2">1</tspan></text>
<text x="532.73" y="379.9" font-family='"Liberation Sans", sans-serif' font-size="7.6" fill="#000" stroke="#000" stroke-width="0.3" text-anchor="middle">10<tspan font-size="5.3" dy="-4.2">2</tspan></text>
<text x="577.57" y="379.9" font-family='"Liberation Sans", sans-serif' font-size="7.6" fill="#000" stroke="#000" stroke-width="0.3" text-anchor="middle">10<tspan font-size="5.3" dy="-4.2">3</tspan></text>
<text x="622.4" y="379.9" font-family='"Liberation Sans", sans-serif' font-size="7.6" fill="#000" stroke="#000" stroke-width="0.3" text-anchor="middle">10<tspan font-size="5.3" dy="-4.2">4</tspan></text>
<text x="352.8" y="206.7" font-family='"Liberation Sans", sans-serif' font-size="7.6" fill="#0000ff" stroke="#0000ff" stroke-width="0.3">x 10<tspan font-size="5.3" dy="-3.6">4</tspan></text>
<text x="487.9" y="204.3" font-family='"Liberation Serif", serif' font-size="8.8" font-weight="normal" fill="#000" stroke="#000" stroke-width="0.32" text-anchor="middle">SF6</text>
<text x="487.9" y="389" font-family='"Liberation Serif", serif' font-size="9.1" font-weight="normal" fill="#000" stroke="#000" stroke-width="0.2" text-anchor="middle">Time–Horizon (years)</text>
<text transform="translate(342.3,289.3) rotate(-90)" font-family='"Liberation Serif", serif' font-size="9.3" font-weight="normal" fill="#0000ff" stroke="#0000ff" stroke-width="0.2" text-anchor="middle">Metric Value</text>
<text transform="translate(640.9,289.3) rotate(-90)" font-family='"Liberation Serif", serif' font-size="9.1" font-weight="normal" fill="#008000" stroke="#008000" stroke-width="0.2" text-anchor="middle">Relative Difference (%)</text>
<rect x="183.5" y="15.8" width="108" height="29.4" fill="#fff" stroke="#000" stroke-width="1"/>
<path d="M188.1,21.4H210.8" stroke="#0000ff" stroke-width="2.6"/>
<text x="213.4" y="24.1" font-family='"Liberation Sans", sans-serif' font-size="7.5" fill="#000" stroke="#000" stroke-width="0.3">GWP</text>
<path d="M188.1,30.6H210.8" stroke="#ff0000" stroke-width="2.6"/>
<text x="213.4" y="33.3" font-family='"Liberation Sans", sans-serif' font-size="7.5" fill="#000" stroke="#000" stroke-width="0.3">iGTP</text>
<path d="M188.1,39.8H210.8" stroke="#008000" stroke-width="1.8"/>
<text x="213.4" y="42.5" font-family='"Liberation Sans", sans-serif' font-size="7.5" fill="#000" stroke="#000" stroke-width="0.3">Relative Difference (%)</text>
</svg></body></html>
